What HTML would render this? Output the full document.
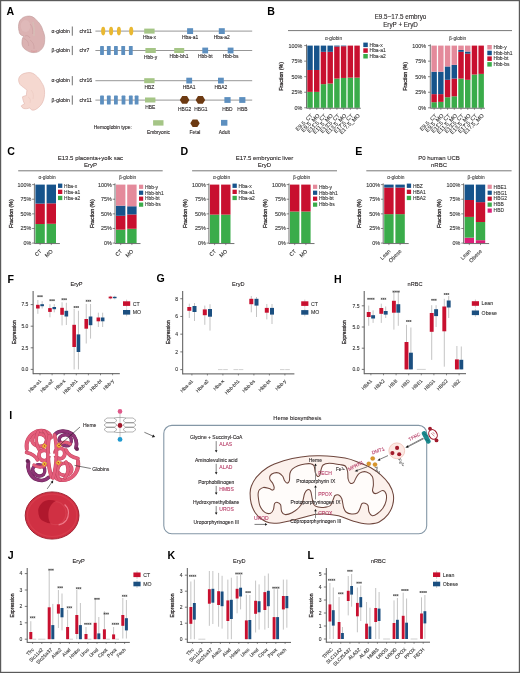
<!DOCTYPE html>
<html><head><meta charset="utf-8"><title>Figure</title>
<style>
html,body{margin:0;padding:0;background:#fff;}
body{width:520px;height:673px;overflow:hidden;}
svg{display:block;font-family:"Liberation Sans",sans-serif;will-change:transform;}
</style></head>
<body>
<svg width="520" height="673" viewBox="0 0 520 673">
<rect x="0" y="0" width="520" height="673" fill="#fff"/>
<text x="6.6" y="14.8" font-size="10.6" text-anchor="start" fill="#000" font-weight="bold">A</text>
<path d="M27.1,16.2 C31,15.6 33.5,17 35.6,19.2 C39.5,22.6 42,26.5 42.8,30.3 C44.2,33.5 45,36.5 44.7,39.5 C44.8,43.5 43.8,46.5 42.1,48.6 C40.2,51 38,52.3 35.6,52.5 C32,53 29,52 27.1,50.6 C25,49.5 23.3,48 22.5,46 C21.6,44 22,41.5 22.2,39.5 C22.4,38 23.2,37 23.8,36.2 C22.6,35.8 21,35.2 20.2,34.2 C19.4,33.2 19.3,32.4 19.2,31.6 C18.6,29.5 18.3,27.3 18.6,25 C18.8,22.8 19.4,21.2 20.5,19.8 C22.3,17.6 24.6,16.5 27.1,16.2 Z" fill="#dbb2b2" stroke="#c09898" stroke-width="0.6"/>
<ellipse cx="25.5" cy="26" rx="4.8" ry="6" fill="#e2c0bf" opacity="0.55"/>
<path d="M33,22 C34,26 34.5,31 34,36" fill="none" stroke="#d4c0b6" stroke-width="1.6" opacity="0.7"/>
<path d="M30,24 C32.5,26 33,30 32.5,34 M23.5,38.5 C26.5,39.5 29,42 28.5,46 M30,40 C33,42 34.5,45 34,49 M25,36 C27,35 29,36 30,38" fill="none" stroke="#c39495" stroke-width="0.5" opacity="0.8"/>
<path d="M31,50.8 C33,51.6 35,51.6 37,50.8" fill="none" stroke="#d98f92" stroke-width="0.9" opacity="0.7"/>
<path d="M29,72.6 C31.5,72.4 33.7,73.6 35.6,75.2 C38.3,77.4 40.2,79.8 41.5,82.4 C43.3,85 44.2,87.2 44.4,89.6 C44.8,93 44.6,96.4 43.7,99.4 C42.6,103 41,105.4 38.8,107.2 C37,108.8 35,110.2 33,110.2 C31.5,110.2 30.5,109 29.7,107.9 C28,108.6 25.5,109 23.8,108.5 C22.5,108 21.5,107 21.2,105.9 C22,105 23.4,104.6 24.5,104 C23.6,101.7 22.6,99.4 22.5,96.8 C23.8,96 25.2,95.8 26.4,95.5 C26.4,93.6 26.6,91.8 27,90.2 C25.9,89.4 24.8,88.4 23.8,87.6 C22.3,86.6 20.9,85.6 19.9,84.3 C19,82.8 18.6,81.3 18.6,79.8 C18.7,77.7 19.8,75.8 21.8,74.5 C24,73.2 26.5,72.7 29,72.6 Z" fill="#f5d8d0" stroke="#e0b4ab" stroke-width="0.6"/>
<path d="M31,90 C33,92 34,95 33,99 M28,97 C30,98 31,100 30,103" fill="none" stroke="#e9c3ba" stroke-width="0.45"/>
<text x="69.8" y="32.64" font-size="5.1" text-anchor="end" fill="#231f20" stroke="#231f20" stroke-width="0.1">α-globin</text>
<line x1="72.3" y1="26.5" x2="72.3" y2="35.7" stroke="#333" stroke-width="0.7"/>
<text x="79.4" y="32.84" font-size="5.1" text-anchor="start" fill="#231f20" stroke="#231f20" stroke-width="0.1">chr11</text>
<line x1="95.4" y1="31.1" x2="252.2" y2="31.1" stroke="#7c7c7c" stroke-width="0.8"/>
<text x="69.8" y="52.04" font-size="5.1" text-anchor="end" fill="#231f20" stroke="#231f20" stroke-width="0.1">β-globin</text>
<line x1="72.3" y1="45.9" x2="72.3" y2="55.1" stroke="#333" stroke-width="0.7"/>
<text x="79.4" y="52.24" font-size="5.1" text-anchor="start" fill="#231f20" stroke="#231f20" stroke-width="0.1">chr7</text>
<line x1="95.4" y1="50.5" x2="252.2" y2="50.5" stroke="#7c7c7c" stroke-width="0.8"/>
<text x="69.8" y="82.24" font-size="5.1" text-anchor="end" fill="#231f20" stroke="#231f20" stroke-width="0.1">α-globin</text>
<line x1="72.3" y1="76.1" x2="72.3" y2="85.3" stroke="#333" stroke-width="0.7"/>
<text x="79.4" y="82.44" font-size="5.1" text-anchor="start" fill="#231f20" stroke="#231f20" stroke-width="0.1">chr16</text>
<line x1="95.4" y1="80.7" x2="252.2" y2="80.7" stroke="#7c7c7c" stroke-width="0.8"/>
<text x="69.8" y="101.64" font-size="5.1" text-anchor="end" fill="#231f20" stroke="#231f20" stroke-width="0.1">β-globin</text>
<line x1="72.3" y1="95.5" x2="72.3" y2="104.7" stroke="#333" stroke-width="0.7"/>
<text x="79.4" y="101.84" font-size="5.1" text-anchor="start" fill="#231f20" stroke="#231f20" stroke-width="0.1">chr11</text>
<line x1="95.4" y1="100.1" x2="252.2" y2="100.1" stroke="#7c7c7c" stroke-width="0.8"/>
<ellipse cx="103.2" cy="31.1" rx="2.05" ry="4.3" fill="#e9b832"/>
<ellipse cx="111.1" cy="31.1" rx="2.05" ry="4.3" fill="#e9b832"/>
<ellipse cx="118.9" cy="31.1" rx="2.05" ry="4.3" fill="#e9b832"/>
<ellipse cx="131.2" cy="31.1" rx="2.05" ry="4.3" fill="#e9b832"/>
<rect x="144.2" y="28.6" width="10.4" height="5" fill="#a5c586"/>
<rect x="187.1" y="28.2" width="6" height="5.8" fill="#5d8fbf"/>
<rect x="218.8" y="28.2" width="6" height="5.8" fill="#5d8fbf"/>
<text x="149.4" y="39.06" font-size="4.9" text-anchor="middle" fill="#231f20" stroke="#231f20" stroke-width="0.1">Hba-x</text>
<text x="190.1" y="39.46" font-size="4.9" text-anchor="middle" fill="#231f20" stroke="#231f20" stroke-width="0.1">Hba-a1</text>
<text x="221.8" y="39.46" font-size="4.9" text-anchor="middle" fill="#231f20" stroke="#231f20" stroke-width="0.1">Hba-a2</text>
<rect x="100.1" y="46" width="3.8" height="9" fill="#5d8fbf" rx="0.6"/>
<rect x="106.9" y="46" width="3.8" height="9" fill="#5d8fbf" rx="0.6"/>
<rect x="114" y="46" width="3.8" height="9" fill="#5d8fbf" rx="0.6"/>
<rect x="121.3" y="46" width="3.8" height="9" fill="#5d8fbf" rx="0.6"/>
<rect x="128.9" y="46" width="3.8" height="9" fill="#5d8fbf" rx="0.6"/>
<rect x="145.4" y="48" width="10.4" height="5" fill="#a5c586"/>
<rect x="174.2" y="48" width="10" height="5" fill="#a5c586"/>
<rect x="202.3" y="47.6" width="5.8" height="5.8" fill="#5d8fbf"/>
<rect x="227.7" y="47.6" width="5.8" height="5.8" fill="#5d8fbf"/>
<text x="150.6" y="58.66" font-size="4.9" text-anchor="middle" fill="#231f20" stroke="#231f20" stroke-width="0.1">Hbb-y</text>
<text x="179" y="58.36" font-size="4.9" text-anchor="middle" fill="#231f20" stroke="#231f20" stroke-width="0.1">Hbb-bh1</text>
<text x="205.3" y="58.36" font-size="4.9" text-anchor="middle" fill="#231f20" stroke="#231f20" stroke-width="0.1">Hbb-bt</text>
<text x="230.6" y="58.36" font-size="4.9" text-anchor="middle" fill="#231f20" stroke="#231f20" stroke-width="0.1">Hbb-bs</text>
<rect x="144.2" y="78.2" width="10.4" height="5" fill="#a5c586"/>
<rect x="186.3" y="77.7" width="5.8" height="5.8" fill="#5d8fbf"/>
<rect x="218" y="77.7" width="5.8" height="5.8" fill="#5d8fbf"/>
<text x="149.4" y="89.06" font-size="4.9" text-anchor="middle" fill="#231f20" stroke="#231f20" stroke-width="0.1">HBZ</text>
<text x="189.2" y="89.06" font-size="4.9" text-anchor="middle" fill="#231f20" stroke="#231f20" stroke-width="0.1">HBA1</text>
<text x="220.9" y="89.06" font-size="4.9" text-anchor="middle" fill="#231f20" stroke="#231f20" stroke-width="0.1">HBA2</text>
<rect x="100.1" y="95.6" width="3.8" height="9" fill="#5d8fbf" rx="0.6"/>
<rect x="106.9" y="95.6" width="3.8" height="9" fill="#5d8fbf" rx="0.6"/>
<rect x="114" y="95.6" width="3.8" height="9" fill="#5d8fbf" rx="0.6"/>
<rect x="121.6" y="95.6" width="3.8" height="9" fill="#5d8fbf" rx="0.6"/>
<rect x="128.9" y="95.6" width="3.8" height="9" fill="#5d8fbf" rx="0.6"/>
<rect x="134.7" y="95.6" width="3.8" height="9" fill="#5d8fbf" rx="0.6"/>
<rect x="145" y="97.5" width="10.4" height="5" fill="#a5c586"/>
<polygon points="189.4,99.9 187,103.72 182.2,103.72 179.8,99.9 182.2,96.08 187,96.08" fill="#6d3a12"/>
<polygon points="205.2,99.9 202.8,103.72 198,103.72 195.6,99.9 198,96.08 202.8,96.08" fill="#6d3a12"/>
<rect x="224.4" y="97.1" width="6.2" height="5.8" fill="#5d8fbf"/>
<rect x="239.2" y="97.1" width="6.2" height="5.8" fill="#5d8fbf"/>
<text x="150.2" y="108.56" font-size="4.9" text-anchor="middle" fill="#231f20" stroke="#231f20" stroke-width="0.1">HBE</text>
<text x="184.6" y="111.16" font-size="4.9" text-anchor="middle" fill="#231f20" stroke="#231f20" stroke-width="0.1">HBG2</text>
<text x="200.8" y="111.16" font-size="4.9" text-anchor="middle" fill="#231f20" stroke="#231f20" stroke-width="0.1">HBG1</text>
<text x="227.4" y="111.16" font-size="4.9" text-anchor="middle" fill="#231f20" stroke="#231f20" stroke-width="0.1">HBD</text>
<text x="242.4" y="111.16" font-size="4.9" text-anchor="middle" fill="#231f20" stroke="#231f20" stroke-width="0.1">HBB</text>
<text x="93.8" y="128.76" font-size="4.9" text-anchor="start" fill="#231f20" stroke="#231f20" stroke-width="0.1">Hemoglobin type:</text>
<rect x="153.1" y="120.2" width="10.4" height="5.4" fill="#a5c586"/>
<polygon points="199.7,123.2 197.35,126.94 192.65,126.94 190.3,123.2 192.65,119.46 197.35,119.46" fill="#6d3a12"/>
<rect x="221" y="119.9" width="6.4" height="5.8" fill="#5d8fbf"/>
<text x="158.5" y="133.56" font-size="4.9" text-anchor="middle" fill="#231f20" stroke="#231f20" stroke-width="0.1">Embryonic</text>
<text x="195" y="133.56" font-size="4.9" text-anchor="middle" fill="#231f20" stroke="#231f20" stroke-width="0.1">Fetal</text>
<text x="224.4" y="133.56" font-size="4.9" text-anchor="middle" fill="#231f20" stroke="#231f20" stroke-width="0.1">Adult</text>
<text x="267.3" y="14.6" font-size="10.6" text-anchor="start" fill="#000" font-weight="bold">B</text>
<text x="400.5" y="18.97" font-size="6.3" text-anchor="middle" fill="#231f20" stroke="#231f20" stroke-width="0.1">E9.5~17.5 embryo</text>
<text x="400.5" y="26.57" font-size="6.3" text-anchor="middle" fill="#231f20" stroke="#231f20" stroke-width="0.1">EryP + EryD</text>
<line x1="288" y1="30.6" x2="512" y2="30.6" stroke="#555" stroke-width="0.8"/>
<rect x="307.3" y="91.88" width="5.45" height="15.92" fill="#3aac4a"/>
<rect x="307.3" y="69.98" width="5.45" height="21.89" fill="#c8102f"/>
<rect x="307.3" y="45.6" width="5.45" height="24.38" fill="#16538b"/>
<rect x="314.02" y="91.88" width="5.45" height="15.92" fill="#3aac4a"/>
<rect x="314.02" y="69.98" width="5.45" height="21.89" fill="#c8102f"/>
<rect x="314.02" y="45.6" width="5.45" height="24.38" fill="#16538b"/>
<rect x="320.74" y="84.16" width="5.45" height="23.64" fill="#3aac4a"/>
<rect x="320.74" y="51.82" width="5.45" height="32.34" fill="#c8102f"/>
<rect x="320.74" y="45.6" width="5.45" height="6.22" fill="#16538b"/>
<rect x="327.46" y="83.54" width="5.45" height="24.26" fill="#3aac4a"/>
<rect x="327.46" y="51.82" width="5.45" height="31.72" fill="#c8102f"/>
<rect x="327.46" y="45.6" width="5.45" height="6.22" fill="#16538b"/>
<rect x="334.18" y="78.57" width="5.45" height="29.23" fill="#3aac4a"/>
<rect x="334.18" y="46.53" width="5.45" height="32.03" fill="#c8102f"/>
<rect x="334.18" y="45.6" width="5.45" height="0.93" fill="#16538b"/>
<rect x="340.9" y="77.94" width="5.45" height="29.86" fill="#3aac4a"/>
<rect x="340.9" y="46.22" width="5.45" height="31.72" fill="#c8102f"/>
<rect x="340.9" y="45.6" width="5.45" height="0.62" fill="#16538b"/>
<rect x="347.62" y="77.63" width="5.45" height="30.17" fill="#3aac4a"/>
<rect x="347.62" y="45.6" width="5.45" height="32.03" fill="#c8102f"/>
<rect x="347.62" y="45.6" width="5.45" height="0" fill="#16538b"/>
<rect x="354.34" y="77.63" width="5.45" height="30.17" fill="#3aac4a"/>
<rect x="354.34" y="45.6" width="5.45" height="32.03" fill="#c8102f"/>
<rect x="354.34" y="45.6" width="5.45" height="0" fill="#16538b"/>
<line x1="306.5" y1="44.4" x2="306.5" y2="108.2" stroke="#444444" stroke-width="0.75"/>
<line x1="306.5" y1="108.25" x2="360.79" y2="108.25" stroke="#444444" stroke-width="0.75"/>
<line x1="304.2" y1="107.8" x2="306.5" y2="107.8" stroke="#555" stroke-width="0.7"/>
<text x="302.3" y="109.7" font-size="5.4" text-anchor="end" fill="#333" stroke="#333" stroke-width="0.1">0%</text>
<line x1="304.2" y1="92.25" x2="306.5" y2="92.25" stroke="#555" stroke-width="0.7"/>
<text x="302.3" y="94.15" font-size="5.4" text-anchor="end" fill="#333" stroke="#333" stroke-width="0.1">25%</text>
<line x1="304.2" y1="76.7" x2="306.5" y2="76.7" stroke="#555" stroke-width="0.7"/>
<text x="302.3" y="78.6" font-size="5.4" text-anchor="end" fill="#333" stroke="#333" stroke-width="0.1">50%</text>
<line x1="304.2" y1="61.15" x2="306.5" y2="61.15" stroke="#555" stroke-width="0.7"/>
<text x="302.3" y="63.05" font-size="5.4" text-anchor="end" fill="#333" stroke="#333" stroke-width="0.1">75%</text>
<line x1="304.2" y1="45.6" x2="306.5" y2="45.6" stroke="#555" stroke-width="0.7"/>
<text x="302.3" y="47.5" font-size="5.4" text-anchor="end" fill="#333" stroke="#333" stroke-width="0.1">100%</text>
<line x1="310.03" y1="108.25" x2="310.03" y2="109.8" stroke="#444444" stroke-width="0.6"/>
<line x1="316.75" y1="108.25" x2="316.75" y2="109.8" stroke="#444444" stroke-width="0.6"/>
<line x1="323.47" y1="108.25" x2="323.47" y2="109.8" stroke="#444444" stroke-width="0.6"/>
<line x1="330.19" y1="108.25" x2="330.19" y2="109.8" stroke="#444444" stroke-width="0.6"/>
<line x1="336.91" y1="108.25" x2="336.91" y2="109.8" stroke="#444444" stroke-width="0.6"/>
<line x1="343.63" y1="108.25" x2="343.63" y2="109.8" stroke="#444444" stroke-width="0.6"/>
<line x1="350.35" y1="108.25" x2="350.35" y2="109.8" stroke="#444444" stroke-width="0.6"/>
<line x1="357.07" y1="108.25" x2="357.07" y2="109.8" stroke="#444444" stroke-width="0.6"/>
<text transform="translate(313.23,116) rotate(-45)" font-size="5.5" text-anchor="end" fill="#333" stroke="#333" stroke-width="0.1">E9.5_CT</text>
<text transform="translate(319.95,116) rotate(-45)" font-size="5.5" text-anchor="end" fill="#333" stroke="#333" stroke-width="0.1">E9.5_MO</text>
<text transform="translate(326.67,116) rotate(-45)" font-size="5.5" text-anchor="end" fill="#333" stroke="#333" stroke-width="0.1">E11.5_CT</text>
<text transform="translate(333.39,116) rotate(-45)" font-size="5.5" text-anchor="end" fill="#333" stroke="#333" stroke-width="0.1">E11.5_MO</text>
<text transform="translate(340.11,116) rotate(-45)" font-size="5.5" text-anchor="end" fill="#333" stroke="#333" stroke-width="0.1">E13.5_CT</text>
<text transform="translate(346.83,116) rotate(-45)" font-size="5.5" text-anchor="end" fill="#333" stroke="#333" stroke-width="0.1">E13.5_MO</text>
<text transform="translate(353.55,116) rotate(-45)" font-size="5.5" text-anchor="end" fill="#333" stroke="#333" stroke-width="0.1">E17.5_CT</text>
<text transform="translate(360.27,116) rotate(-45)" font-size="5.5" text-anchor="end" fill="#333" stroke="#333" stroke-width="0.1">E17.5_MO</text>
<rect x="363.3" y="42.6" width="4.5" height="4.5" fill="#16538b"/>
<text x="369.6" y="46.6" font-size="4.9" text-anchor="start" fill="#333" stroke="#333" stroke-width="0.1">Hba-x</text>
<rect x="363.3" y="48.3" width="4.5" height="4.5" fill="#c8102f"/>
<text x="369.6" y="52.3" font-size="4.9" text-anchor="start" fill="#333" stroke="#333" stroke-width="0.1">Hba-a1</text>
<rect x="363.3" y="54" width="4.5" height="4.5" fill="#3aac4a"/>
<text x="369.6" y="58" font-size="4.9" text-anchor="start" fill="#333" stroke="#333" stroke-width="0.1">Hba-a2</text>
<text x="333.5" y="39.6" font-size="4.8" text-anchor="middle" fill="#444" stroke="#444" stroke-width="0.1">α-globin</text>
<text transform="translate(282.8,76.4) rotate(-90) scale(0.865,1)" font-size="6.1" text-anchor="middle" fill="#231f20" stroke="#231f20" stroke-width="0.26">Fraction (%)</text>
<rect x="431.4" y="102.2" width="5.45" height="5.6" fill="#3aac4a"/>
<rect x="431.4" y="94.12" width="5.45" height="8.09" fill="#c8102f"/>
<rect x="431.4" y="71.72" width="5.45" height="22.39" fill="#16538b"/>
<rect x="431.4" y="45.6" width="5.45" height="26.12" fill="#e48a9b"/>
<rect x="438.12" y="101.89" width="5.45" height="5.91" fill="#3aac4a"/>
<rect x="438.12" y="94.12" width="5.45" height="7.77" fill="#c8102f"/>
<rect x="438.12" y="71.72" width="5.45" height="22.39" fill="#16538b"/>
<rect x="438.12" y="45.6" width="5.45" height="26.12" fill="#e48a9b"/>
<rect x="444.84" y="97.23" width="5.45" height="10.57" fill="#3aac4a"/>
<rect x="444.84" y="79.81" width="5.45" height="17.42" fill="#c8102f"/>
<rect x="444.84" y="66.44" width="5.45" height="13.37" fill="#16538b"/>
<rect x="444.84" y="45.6" width="5.45" height="20.84" fill="#e48a9b"/>
<rect x="451.56" y="96.29" width="5.45" height="11.51" fill="#3aac4a"/>
<rect x="451.56" y="78.57" width="5.45" height="17.73" fill="#c8102f"/>
<rect x="451.56" y="64.88" width="5.45" height="13.68" fill="#16538b"/>
<rect x="451.56" y="45.6" width="5.45" height="19.28" fill="#e48a9b"/>
<rect x="458.28" y="78.57" width="5.45" height="29.23" fill="#3aac4a"/>
<rect x="458.28" y="51.82" width="5.45" height="26.75" fill="#c8102f"/>
<rect x="458.28" y="49.95" width="5.45" height="1.87" fill="#16538b"/>
<rect x="458.28" y="45.6" width="5.45" height="4.35" fill="#e48a9b"/>
<rect x="465" y="79.81" width="5.45" height="27.99" fill="#3aac4a"/>
<rect x="465" y="53.69" width="5.45" height="26.12" fill="#c8102f"/>
<rect x="465" y="51.51" width="5.45" height="2.18" fill="#16538b"/>
<rect x="465" y="45.6" width="5.45" height="5.91" fill="#e48a9b"/>
<rect x="471.72" y="74.52" width="5.45" height="33.28" fill="#3aac4a"/>
<rect x="471.72" y="45.6" width="5.45" height="28.92" fill="#c8102f"/>
<rect x="471.72" y="45.6" width="5.45" height="0" fill="#16538b"/>
<rect x="471.72" y="45.6" width="5.45" height="0" fill="#e48a9b"/>
<rect x="478.44" y="73.9" width="5.45" height="33.9" fill="#3aac4a"/>
<rect x="478.44" y="45.6" width="5.45" height="28.3" fill="#c8102f"/>
<rect x="478.44" y="45.6" width="5.45" height="0" fill="#16538b"/>
<rect x="478.44" y="45.6" width="5.45" height="0" fill="#e48a9b"/>
<line x1="430.3" y1="44.4" x2="430.3" y2="108.2" stroke="#444444" stroke-width="0.75"/>
<line x1="430.3" y1="108.25" x2="484.89" y2="108.25" stroke="#444444" stroke-width="0.75"/>
<line x1="428" y1="107.8" x2="430.3" y2="107.8" stroke="#555" stroke-width="0.7"/>
<text x="426.1" y="109.7" font-size="5.4" text-anchor="end" fill="#333" stroke="#333" stroke-width="0.1">0%</text>
<line x1="428" y1="92.25" x2="430.3" y2="92.25" stroke="#555" stroke-width="0.7"/>
<text x="426.1" y="94.15" font-size="5.4" text-anchor="end" fill="#333" stroke="#333" stroke-width="0.1">25%</text>
<line x1="428" y1="76.7" x2="430.3" y2="76.7" stroke="#555" stroke-width="0.7"/>
<text x="426.1" y="78.6" font-size="5.4" text-anchor="end" fill="#333" stroke="#333" stroke-width="0.1">50%</text>
<line x1="428" y1="61.15" x2="430.3" y2="61.15" stroke="#555" stroke-width="0.7"/>
<text x="426.1" y="63.05" font-size="5.4" text-anchor="end" fill="#333" stroke="#333" stroke-width="0.1">75%</text>
<line x1="428" y1="45.6" x2="430.3" y2="45.6" stroke="#555" stroke-width="0.7"/>
<text x="426.1" y="47.5" font-size="5.4" text-anchor="end" fill="#333" stroke="#333" stroke-width="0.1">100%</text>
<line x1="434.12" y1="108.25" x2="434.12" y2="109.8" stroke="#444444" stroke-width="0.6"/>
<line x1="440.85" y1="108.25" x2="440.85" y2="109.8" stroke="#444444" stroke-width="0.6"/>
<line x1="447.56" y1="108.25" x2="447.56" y2="109.8" stroke="#444444" stroke-width="0.6"/>
<line x1="454.29" y1="108.25" x2="454.29" y2="109.8" stroke="#444444" stroke-width="0.6"/>
<line x1="461" y1="108.25" x2="461" y2="109.8" stroke="#444444" stroke-width="0.6"/>
<line x1="467.73" y1="108.25" x2="467.73" y2="109.8" stroke="#444444" stroke-width="0.6"/>
<line x1="474.44" y1="108.25" x2="474.44" y2="109.8" stroke="#444444" stroke-width="0.6"/>
<line x1="481.17" y1="108.25" x2="481.17" y2="109.8" stroke="#444444" stroke-width="0.6"/>
<text transform="translate(437.32,116) rotate(-45)" font-size="5.5" text-anchor="end" fill="#333" stroke="#333" stroke-width="0.1">E9.5_CT</text>
<text transform="translate(444.05,116) rotate(-45)" font-size="5.5" text-anchor="end" fill="#333" stroke="#333" stroke-width="0.1">E9.5_MO</text>
<text transform="translate(450.76,116) rotate(-45)" font-size="5.5" text-anchor="end" fill="#333" stroke="#333" stroke-width="0.1">E11.5_CT</text>
<text transform="translate(457.49,116) rotate(-45)" font-size="5.5" text-anchor="end" fill="#333" stroke="#333" stroke-width="0.1">E11.5_MO</text>
<text transform="translate(464.2,116) rotate(-45)" font-size="5.5" text-anchor="end" fill="#333" stroke="#333" stroke-width="0.1">E13.5_CT</text>
<text transform="translate(470.93,116) rotate(-45)" font-size="5.5" text-anchor="end" fill="#333" stroke="#333" stroke-width="0.1">E13.5_MO</text>
<text transform="translate(477.64,116) rotate(-45)" font-size="5.5" text-anchor="end" fill="#333" stroke="#333" stroke-width="0.1">E17.5_CT</text>
<text transform="translate(484.37,116) rotate(-45)" font-size="5.5" text-anchor="end" fill="#333" stroke="#333" stroke-width="0.1">E17.5_MO</text>
<rect x="487.3" y="45" width="4.5" height="4.5" fill="#e48a9b"/>
<text x="493.6" y="49" font-size="4.9" text-anchor="start" fill="#333" stroke="#333" stroke-width="0.1">Hbb-y</text>
<rect x="487.3" y="50.7" width="4.5" height="4.5" fill="#16538b"/>
<text x="493.6" y="54.7" font-size="4.9" text-anchor="start" fill="#333" stroke="#333" stroke-width="0.1">Hbb-bh1</text>
<rect x="487.3" y="56.4" width="4.5" height="4.5" fill="#c8102f"/>
<text x="493.6" y="60.4" font-size="4.9" text-anchor="start" fill="#333" stroke="#333" stroke-width="0.1">Hbb-bt</text>
<rect x="487.3" y="62.1" width="4.5" height="4.5" fill="#3aac4a"/>
<text x="493.6" y="66.1" font-size="4.9" text-anchor="start" fill="#333" stroke="#333" stroke-width="0.1">Hbb-bs</text>
<text x="457.7" y="39.5" font-size="4.8" text-anchor="middle" fill="#444" stroke="#444" stroke-width="0.1">β-globin</text>
<text transform="translate(406.8,76.4) rotate(-90) scale(0.865,1)" font-size="6.1" text-anchor="middle" fill="#231f20" stroke="#231f20" stroke-width="0.26">Fraction (%)</text>
<text x="7.2" y="155.3" font-size="10.6" text-anchor="start" fill="#000" font-weight="bold">C</text>
<text x="90.4" y="159.66" font-size="6" text-anchor="middle" fill="#231f20" stroke="#231f20" stroke-width="0.1">E13.5 placenta+yolk sac</text>
<text x="90.4" y="166.96" font-size="6" text-anchor="middle" fill="#231f20" stroke="#231f20" stroke-width="0.1">EryP</text>
<line x1="18.2" y1="170.8" x2="162.7" y2="170.8" stroke="#555" stroke-width="0.8"/>
<rect x="35.4" y="224.03" width="9.4" height="19.07" fill="#3aac4a"/>
<rect x="35.4" y="203.61" width="9.4" height="20.42" fill="#c8102f"/>
<rect x="35.4" y="184.6" width="9.4" height="19.01" fill="#16538b"/>
<rect x="46.6" y="223.79" width="9.4" height="19.31" fill="#3aac4a"/>
<rect x="46.6" y="203.32" width="9.4" height="20.47" fill="#c8102f"/>
<rect x="46.6" y="184.6" width="9.4" height="18.72" fill="#16538b"/>
<line x1="34.4" y1="183.4" x2="34.4" y2="243.5" stroke="#444444" stroke-width="0.75"/>
<line x1="34.4" y1="243.55" x2="59.9" y2="243.55" stroke="#444444" stroke-width="0.75"/>
<line x1="32.1" y1="243.1" x2="34.4" y2="243.1" stroke="#555" stroke-width="0.7"/>
<text x="31.2" y="245" font-size="5.4" text-anchor="end" fill="#333" stroke="#333" stroke-width="0.1">0%</text>
<line x1="32.1" y1="228.47" x2="34.4" y2="228.47" stroke="#555" stroke-width="0.7"/>
<text x="31.2" y="230.38" font-size="5.4" text-anchor="end" fill="#333" stroke="#333" stroke-width="0.1">25%</text>
<line x1="32.1" y1="213.85" x2="34.4" y2="213.85" stroke="#555" stroke-width="0.7"/>
<text x="31.2" y="215.75" font-size="5.4" text-anchor="end" fill="#333" stroke="#333" stroke-width="0.1">50%</text>
<line x1="32.1" y1="199.22" x2="34.4" y2="199.22" stroke="#555" stroke-width="0.7"/>
<text x="31.2" y="201.12" font-size="5.4" text-anchor="end" fill="#333" stroke="#333" stroke-width="0.1">75%</text>
<line x1="32.1" y1="184.6" x2="34.4" y2="184.6" stroke="#555" stroke-width="0.7"/>
<text x="31.2" y="186.5" font-size="5.4" text-anchor="end" fill="#333" stroke="#333" stroke-width="0.1">100%</text>
<line x1="40.1" y1="243.55" x2="40.1" y2="245.1" stroke="#444444" stroke-width="0.6"/>
<line x1="51.3" y1="243.55" x2="51.3" y2="245.1" stroke="#444444" stroke-width="0.6"/>
<text transform="translate(42,251.7) rotate(-45)" font-size="5.4" text-anchor="end" fill="#333" stroke="#333" stroke-width="0.1">CT</text>
<text transform="translate(53.2,251.7) rotate(-45)" font-size="5.4" text-anchor="end" fill="#333" stroke="#333" stroke-width="0.1">MO</text>
<rect x="58" y="183.6" width="4.3" height="4.3" fill="#16538b"/>
<text x="64.1" y="187.5" font-size="4.9" text-anchor="start" fill="#333" stroke="#333" stroke-width="0.1">Hba-x</text>
<rect x="58" y="189.7" width="4.3" height="4.3" fill="#c8102f"/>
<text x="64.1" y="193.6" font-size="4.9" text-anchor="start" fill="#333" stroke="#333" stroke-width="0.1">Hba-a1</text>
<rect x="58" y="195.8" width="4.3" height="4.3" fill="#3aac4a"/>
<text x="64.1" y="199.7" font-size="4.9" text-anchor="start" fill="#333" stroke="#333" stroke-width="0.1">Hba-a2</text>
<text x="47" y="178.6" font-size="4.8" text-anchor="middle" fill="#444" stroke="#444" stroke-width="0.1">α-globin</text>
<text transform="translate(13,213.55) rotate(-90) scale(0.865,1)" font-size="6.1" text-anchor="middle" fill="#231f20" stroke="#231f20" stroke-width="0.26">Fraction (%)</text>
<rect x="116" y="229.64" width="9.4" height="13.46" fill="#3aac4a"/>
<rect x="116" y="215.78" width="9.4" height="13.86" fill="#c8102f"/>
<rect x="116" y="205.66" width="9.4" height="10.12" fill="#16538b"/>
<rect x="116" y="184.6" width="9.4" height="21.06" fill="#e48a9b"/>
<rect x="127.2" y="228.77" width="9.4" height="14.33" fill="#3aac4a"/>
<rect x="127.2" y="214.44" width="9.4" height="14.33" fill="#c8102f"/>
<rect x="127.2" y="206.25" width="9.4" height="8.19" fill="#16538b"/>
<rect x="127.2" y="184.6" width="9.4" height="21.65" fill="#e48a9b"/>
<line x1="115" y1="183.4" x2="115" y2="243.5" stroke="#444444" stroke-width="0.75"/>
<line x1="115" y1="243.55" x2="140.5" y2="243.55" stroke="#444444" stroke-width="0.75"/>
<line x1="112.7" y1="243.1" x2="115" y2="243.1" stroke="#555" stroke-width="0.7"/>
<text x="111.8" y="245" font-size="5.4" text-anchor="end" fill="#333" stroke="#333" stroke-width="0.1">0%</text>
<line x1="112.7" y1="228.47" x2="115" y2="228.47" stroke="#555" stroke-width="0.7"/>
<text x="111.8" y="230.38" font-size="5.4" text-anchor="end" fill="#333" stroke="#333" stroke-width="0.1">25%</text>
<line x1="112.7" y1="213.85" x2="115" y2="213.85" stroke="#555" stroke-width="0.7"/>
<text x="111.8" y="215.75" font-size="5.4" text-anchor="end" fill="#333" stroke="#333" stroke-width="0.1">50%</text>
<line x1="112.7" y1="199.22" x2="115" y2="199.22" stroke="#555" stroke-width="0.7"/>
<text x="111.8" y="201.12" font-size="5.4" text-anchor="end" fill="#333" stroke="#333" stroke-width="0.1">75%</text>
<line x1="112.7" y1="184.6" x2="115" y2="184.6" stroke="#555" stroke-width="0.7"/>
<text x="111.8" y="186.5" font-size="5.4" text-anchor="end" fill="#333" stroke="#333" stroke-width="0.1">100%</text>
<line x1="120.7" y1="243.55" x2="120.7" y2="245.1" stroke="#444444" stroke-width="0.6"/>
<line x1="131.9" y1="243.55" x2="131.9" y2="245.1" stroke="#444444" stroke-width="0.6"/>
<text transform="translate(122.6,251.7) rotate(-45)" font-size="5.4" text-anchor="end" fill="#333" stroke="#333" stroke-width="0.1">CT</text>
<text transform="translate(133.8,251.7) rotate(-45)" font-size="5.4" text-anchor="end" fill="#333" stroke="#333" stroke-width="0.1">MO</text>
<rect x="139" y="184.7" width="4.2" height="4.2" fill="#e48a9b"/>
<text x="145" y="188.55" font-size="4.9" text-anchor="start" fill="#333" stroke="#333" stroke-width="0.1">Hbb-y</text>
<rect x="139" y="190.65" width="4.2" height="4.2" fill="#16538b"/>
<text x="145" y="194.5" font-size="4.9" text-anchor="start" fill="#333" stroke="#333" stroke-width="0.1">Hbb-bh1</text>
<rect x="139" y="196.6" width="4.2" height="4.2" fill="#c8102f"/>
<text x="145" y="200.45" font-size="4.9" text-anchor="start" fill="#333" stroke="#333" stroke-width="0.1">Hbb-bt</text>
<rect x="139" y="202.55" width="4.2" height="4.2" fill="#3aac4a"/>
<text x="145" y="206.4" font-size="4.9" text-anchor="start" fill="#333" stroke="#333" stroke-width="0.1">Hbb-bs</text>
<text x="127.6" y="178.7" font-size="4.8" text-anchor="middle" fill="#444" stroke="#444" stroke-width="0.1">β-globin</text>
<text transform="translate(93.6,213.55) rotate(-90) scale(0.865,1)" font-size="6.1" text-anchor="middle" fill="#231f20" stroke="#231f20" stroke-width="0.26">Fraction (%)</text>
<text x="180.6" y="155.3" font-size="10.6" text-anchor="start" fill="#000" font-weight="bold">D</text>
<text x="264.5" y="159.66" font-size="6" text-anchor="middle" fill="#231f20" stroke="#231f20" stroke-width="0.1">E17.5 embryonic liver</text>
<text x="264.5" y="166.96" font-size="6" text-anchor="middle" fill="#231f20" stroke="#231f20" stroke-width="0.1">EryD</text>
<line x1="192.1" y1="170.8" x2="337" y2="170.8" stroke="#555" stroke-width="0.8"/>
<rect x="209.9" y="214.61" width="9.4" height="28.49" fill="#3aac4a"/>
<rect x="209.9" y="184.6" width="9.4" height="30.01" fill="#c8102f"/>
<rect x="209.9" y="184.6" width="9.4" height="0" fill="#16538b"/>
<rect x="221.1" y="214.61" width="9.4" height="28.49" fill="#3aac4a"/>
<rect x="221.1" y="184.6" width="9.4" height="30.01" fill="#c8102f"/>
<rect x="221.1" y="184.6" width="9.4" height="0" fill="#16538b"/>
<line x1="208.9" y1="183.4" x2="208.9" y2="243.5" stroke="#444444" stroke-width="0.75"/>
<line x1="208.9" y1="243.55" x2="234.4" y2="243.55" stroke="#444444" stroke-width="0.75"/>
<line x1="206.6" y1="243.1" x2="208.9" y2="243.1" stroke="#555" stroke-width="0.7"/>
<text x="205.7" y="245" font-size="5.4" text-anchor="end" fill="#333" stroke="#333" stroke-width="0.1">0%</text>
<line x1="206.6" y1="228.47" x2="208.9" y2="228.47" stroke="#555" stroke-width="0.7"/>
<text x="205.7" y="230.38" font-size="5.4" text-anchor="end" fill="#333" stroke="#333" stroke-width="0.1">25%</text>
<line x1="206.6" y1="213.85" x2="208.9" y2="213.85" stroke="#555" stroke-width="0.7"/>
<text x="205.7" y="215.75" font-size="5.4" text-anchor="end" fill="#333" stroke="#333" stroke-width="0.1">50%</text>
<line x1="206.6" y1="199.22" x2="208.9" y2="199.22" stroke="#555" stroke-width="0.7"/>
<text x="205.7" y="201.12" font-size="5.4" text-anchor="end" fill="#333" stroke="#333" stroke-width="0.1">75%</text>
<line x1="206.6" y1="184.6" x2="208.9" y2="184.6" stroke="#555" stroke-width="0.7"/>
<text x="205.7" y="186.5" font-size="5.4" text-anchor="end" fill="#333" stroke="#333" stroke-width="0.1">100%</text>
<line x1="214.6" y1="243.55" x2="214.6" y2="245.1" stroke="#444444" stroke-width="0.6"/>
<line x1="225.8" y1="243.55" x2="225.8" y2="245.1" stroke="#444444" stroke-width="0.6"/>
<text transform="translate(216.5,251.7) rotate(-45)" font-size="5.4" text-anchor="end" fill="#333" stroke="#333" stroke-width="0.1">CT</text>
<text transform="translate(227.7,251.7) rotate(-45)" font-size="5.4" text-anchor="end" fill="#333" stroke="#333" stroke-width="0.1">MO</text>
<rect x="232.5" y="183.6" width="4.3" height="4.3" fill="#16538b"/>
<text x="238.6" y="187.5" font-size="4.9" text-anchor="start" fill="#333" stroke="#333" stroke-width="0.1">Hba-x</text>
<rect x="232.5" y="189.7" width="4.3" height="4.3" fill="#c8102f"/>
<text x="238.6" y="193.6" font-size="4.9" text-anchor="start" fill="#333" stroke="#333" stroke-width="0.1">Hba-a1</text>
<rect x="232.5" y="195.8" width="4.3" height="4.3" fill="#3aac4a"/>
<text x="238.6" y="199.7" font-size="4.9" text-anchor="start" fill="#333" stroke="#333" stroke-width="0.1">Hba-a2</text>
<text x="221.5" y="178.6" font-size="4.8" text-anchor="middle" fill="#444" stroke="#444" stroke-width="0.1">α-globin</text>
<text transform="translate(186.9,213.55) rotate(-90) scale(0.865,1)" font-size="6.1" text-anchor="middle" fill="#231f20" stroke="#231f20" stroke-width="0.26">Fraction (%)</text>
<rect x="290" y="211.51" width="9.4" height="31.59" fill="#3aac4a"/>
<rect x="290" y="184.6" width="9.4" height="26.91" fill="#c8102f"/>
<rect x="290" y="184.6" width="9.4" height="0" fill="#16538b"/>
<rect x="290" y="184.6" width="9.4" height="0" fill="#e48a9b"/>
<rect x="301.2" y="211.51" width="9.4" height="31.59" fill="#3aac4a"/>
<rect x="301.2" y="184.6" width="9.4" height="26.91" fill="#c8102f"/>
<rect x="301.2" y="184.6" width="9.4" height="0" fill="#16538b"/>
<rect x="301.2" y="184.6" width="9.4" height="0" fill="#e48a9b"/>
<line x1="289" y1="183.4" x2="289" y2="243.5" stroke="#444444" stroke-width="0.75"/>
<line x1="289" y1="243.55" x2="314.5" y2="243.55" stroke="#444444" stroke-width="0.75"/>
<line x1="286.7" y1="243.1" x2="289" y2="243.1" stroke="#555" stroke-width="0.7"/>
<text x="285.8" y="245" font-size="5.4" text-anchor="end" fill="#333" stroke="#333" stroke-width="0.1">0%</text>
<line x1="286.7" y1="228.47" x2="289" y2="228.47" stroke="#555" stroke-width="0.7"/>
<text x="285.8" y="230.38" font-size="5.4" text-anchor="end" fill="#333" stroke="#333" stroke-width="0.1">25%</text>
<line x1="286.7" y1="213.85" x2="289" y2="213.85" stroke="#555" stroke-width="0.7"/>
<text x="285.8" y="215.75" font-size="5.4" text-anchor="end" fill="#333" stroke="#333" stroke-width="0.1">50%</text>
<line x1="286.7" y1="199.22" x2="289" y2="199.22" stroke="#555" stroke-width="0.7"/>
<text x="285.8" y="201.12" font-size="5.4" text-anchor="end" fill="#333" stroke="#333" stroke-width="0.1">75%</text>
<line x1="286.7" y1="184.6" x2="289" y2="184.6" stroke="#555" stroke-width="0.7"/>
<text x="285.8" y="186.5" font-size="5.4" text-anchor="end" fill="#333" stroke="#333" stroke-width="0.1">100%</text>
<line x1="294.7" y1="243.55" x2="294.7" y2="245.1" stroke="#444444" stroke-width="0.6"/>
<line x1="305.9" y1="243.55" x2="305.9" y2="245.1" stroke="#444444" stroke-width="0.6"/>
<text transform="translate(296.6,251.7) rotate(-45)" font-size="5.4" text-anchor="end" fill="#333" stroke="#333" stroke-width="0.1">CT</text>
<text transform="translate(307.8,251.7) rotate(-45)" font-size="5.4" text-anchor="end" fill="#333" stroke="#333" stroke-width="0.1">MO</text>
<rect x="313" y="184.7" width="4.2" height="4.2" fill="#e48a9b"/>
<text x="319" y="188.55" font-size="4.9" text-anchor="start" fill="#333" stroke="#333" stroke-width="0.1">Hbb-y</text>
<rect x="313" y="190.65" width="4.2" height="4.2" fill="#16538b"/>
<text x="319" y="194.5" font-size="4.9" text-anchor="start" fill="#333" stroke="#333" stroke-width="0.1">Hbb-bh1</text>
<rect x="313" y="196.6" width="4.2" height="4.2" fill="#c8102f"/>
<text x="319" y="200.45" font-size="4.9" text-anchor="start" fill="#333" stroke="#333" stroke-width="0.1">Hbb-bt</text>
<rect x="313" y="202.55" width="4.2" height="4.2" fill="#3aac4a"/>
<text x="319" y="206.4" font-size="4.9" text-anchor="start" fill="#333" stroke="#333" stroke-width="0.1">Hbb-bs</text>
<text x="301.6" y="178.7" font-size="4.8" text-anchor="middle" fill="#444" stroke="#444" stroke-width="0.1">β-globin</text>
<text transform="translate(267,213.55) rotate(-90) scale(0.865,1)" font-size="6.1" text-anchor="middle" fill="#231f20" stroke="#231f20" stroke-width="0.26">Fraction (%)</text>
<text x="355.2" y="155.3" font-size="10.6" text-anchor="start" fill="#000" font-weight="bold">E</text>
<text x="439" y="159.66" font-size="6" text-anchor="middle" fill="#231f20" stroke="#231f20" stroke-width="0.1">P0 human UCB</text>
<text x="439" y="166.96" font-size="6" text-anchor="middle" fill="#231f20" stroke="#231f20" stroke-width="0.1">nRBC</text>
<line x1="366.3" y1="170.8" x2="511.6" y2="170.8" stroke="#555" stroke-width="0.8"/>
<rect x="384.2" y="214.14" width="9.4" height="28.96" fill="#3aac4a"/>
<rect x="384.2" y="187.53" width="9.4" height="26.62" fill="#c8102f"/>
<rect x="384.2" y="184.6" width="9.4" height="2.93" fill="#16538b"/>
<rect x="395.4" y="214.14" width="9.4" height="28.96" fill="#3aac4a"/>
<rect x="395.4" y="187.53" width="9.4" height="26.62" fill="#c8102f"/>
<rect x="395.4" y="184.6" width="9.4" height="2.93" fill="#16538b"/>
<line x1="383.2" y1="183.4" x2="383.2" y2="243.5" stroke="#444444" stroke-width="0.75"/>
<line x1="383.2" y1="243.55" x2="408.7" y2="243.55" stroke="#444444" stroke-width="0.75"/>
<line x1="380.9" y1="243.1" x2="383.2" y2="243.1" stroke="#555" stroke-width="0.7"/>
<text x="380" y="245" font-size="5.4" text-anchor="end" fill="#333" stroke="#333" stroke-width="0.1">0%</text>
<line x1="380.9" y1="228.47" x2="383.2" y2="228.47" stroke="#555" stroke-width="0.7"/>
<text x="380" y="230.38" font-size="5.4" text-anchor="end" fill="#333" stroke="#333" stroke-width="0.1">25%</text>
<line x1="380.9" y1="213.85" x2="383.2" y2="213.85" stroke="#555" stroke-width="0.7"/>
<text x="380" y="215.75" font-size="5.4" text-anchor="end" fill="#333" stroke="#333" stroke-width="0.1">50%</text>
<line x1="380.9" y1="199.22" x2="383.2" y2="199.22" stroke="#555" stroke-width="0.7"/>
<text x="380" y="201.12" font-size="5.4" text-anchor="end" fill="#333" stroke="#333" stroke-width="0.1">75%</text>
<line x1="380.9" y1="184.6" x2="383.2" y2="184.6" stroke="#555" stroke-width="0.7"/>
<text x="380" y="186.5" font-size="5.4" text-anchor="end" fill="#333" stroke="#333" stroke-width="0.1">100%</text>
<line x1="388.9" y1="243.55" x2="388.9" y2="245.1" stroke="#444444" stroke-width="0.6"/>
<line x1="400.1" y1="243.55" x2="400.1" y2="245.1" stroke="#444444" stroke-width="0.6"/>
<text transform="translate(390.8,251.7) rotate(-45)" font-size="5.4" text-anchor="end" fill="#333" stroke="#333" stroke-width="0.1">Lean</text>
<text transform="translate(402,251.7) rotate(-45)" font-size="5.4" text-anchor="end" fill="#333" stroke="#333" stroke-width="0.1">Obese</text>
<rect x="406.8" y="183.6" width="4.3" height="4.3" fill="#16538b"/>
<text x="412.9" y="187.5" font-size="4.9" text-anchor="start" fill="#333" stroke="#333" stroke-width="0.1">HBZ</text>
<rect x="406.8" y="189.7" width="4.3" height="4.3" fill="#c8102f"/>
<text x="412.9" y="193.6" font-size="4.9" text-anchor="start" fill="#333" stroke="#333" stroke-width="0.1">HBA1</text>
<rect x="406.8" y="195.8" width="4.3" height="4.3" fill="#3aac4a"/>
<text x="412.9" y="199.7" font-size="4.9" text-anchor="start" fill="#333" stroke="#333" stroke-width="0.1">HBA2</text>
<text x="395.8" y="178.6" font-size="4.8" text-anchor="middle" fill="#444" stroke="#444" stroke-width="0.1">α-globin</text>
<text transform="translate(360.7,213.55) rotate(-90) scale(0.865,1)" font-size="6.1" text-anchor="middle" fill="#231f20" stroke="#231f20" stroke-width="0.26">Fraction (%)</text>
<rect x="464.6" y="237.66" width="9.4" height="5.44" fill="#dc1e78"/>
<rect x="464.6" y="216.89" width="9.4" height="20.77" fill="#3aac4a"/>
<rect x="464.6" y="199.99" width="9.4" height="16.91" fill="#c8102f"/>
<rect x="464.6" y="184.6" width="9.4" height="15.39" fill="#16538b"/>
<rect x="475.8" y="240.17" width="9.4" height="2.93" fill="#dc1e78"/>
<rect x="475.8" y="222.04" width="9.4" height="18.13" fill="#3aac4a"/>
<rect x="475.8" y="202.15" width="9.4" height="19.89" fill="#c8102f"/>
<rect x="475.8" y="184.6" width="9.4" height="17.55" fill="#16538b"/>
<line x1="463.6" y1="183.4" x2="463.6" y2="243.5" stroke="#444444" stroke-width="0.75"/>
<line x1="463.6" y1="243.55" x2="489.1" y2="243.55" stroke="#444444" stroke-width="0.75"/>
<line x1="461.3" y1="243.1" x2="463.6" y2="243.1" stroke="#555" stroke-width="0.7"/>
<text x="460.4" y="245" font-size="5.4" text-anchor="end" fill="#333" stroke="#333" stroke-width="0.1">0%</text>
<line x1="461.3" y1="228.47" x2="463.6" y2="228.47" stroke="#555" stroke-width="0.7"/>
<text x="460.4" y="230.38" font-size="5.4" text-anchor="end" fill="#333" stroke="#333" stroke-width="0.1">25%</text>
<line x1="461.3" y1="213.85" x2="463.6" y2="213.85" stroke="#555" stroke-width="0.7"/>
<text x="460.4" y="215.75" font-size="5.4" text-anchor="end" fill="#333" stroke="#333" stroke-width="0.1">50%</text>
<line x1="461.3" y1="199.22" x2="463.6" y2="199.22" stroke="#555" stroke-width="0.7"/>
<text x="460.4" y="201.12" font-size="5.4" text-anchor="end" fill="#333" stroke="#333" stroke-width="0.1">75%</text>
<line x1="461.3" y1="184.6" x2="463.6" y2="184.6" stroke="#555" stroke-width="0.7"/>
<text x="460.4" y="186.5" font-size="5.4" text-anchor="end" fill="#333" stroke="#333" stroke-width="0.1">100%</text>
<line x1="469.3" y1="243.55" x2="469.3" y2="245.1" stroke="#444444" stroke-width="0.6"/>
<line x1="480.5" y1="243.55" x2="480.5" y2="245.1" stroke="#444444" stroke-width="0.6"/>
<text transform="translate(471.2,251.7) rotate(-45)" font-size="5.4" text-anchor="end" fill="#333" stroke="#333" stroke-width="0.1">Lean</text>
<text transform="translate(482.4,251.7) rotate(-45)" font-size="5.4" text-anchor="end" fill="#333" stroke="#333" stroke-width="0.1">Obese</text>
<rect x="487.6" y="184.7" width="4.2" height="4.2" fill="#e48a9b"/>
<text x="493.6" y="188.55" font-size="4.9" text-anchor="start" fill="#333" stroke="#333" stroke-width="0.1">HBE1</text>
<rect x="487.6" y="190.65" width="4.2" height="4.2" fill="#16538b"/>
<text x="493.6" y="194.5" font-size="4.9" text-anchor="start" fill="#333" stroke="#333" stroke-width="0.1">HBG1</text>
<rect x="487.6" y="196.6" width="4.2" height="4.2" fill="#c8102f"/>
<text x="493.6" y="200.45" font-size="4.9" text-anchor="start" fill="#333" stroke="#333" stroke-width="0.1">HBG2</text>
<rect x="487.6" y="202.55" width="4.2" height="4.2" fill="#3aac4a"/>
<text x="493.6" y="206.4" font-size="4.9" text-anchor="start" fill="#333" stroke="#333" stroke-width="0.1">HBB</text>
<rect x="487.6" y="208.5" width="4.2" height="4.2" fill="#dc1e78"/>
<text x="493.6" y="212.35" font-size="4.9" text-anchor="start" fill="#333" stroke="#333" stroke-width="0.1">HBD</text>
<text x="476.2" y="178.7" font-size="4.8" text-anchor="middle" fill="#444" stroke="#444" stroke-width="0.1">β-globin</text>
<text transform="translate(441.1,213.55) rotate(-90) scale(0.865,1)" font-size="6.1" text-anchor="middle" fill="#231f20" stroke="#231f20" stroke-width="0.26">Fraction (%)</text>
<text x="7.5" y="282.5" font-size="10.6" text-anchor="start" fill="#000" font-weight="bold">F</text>
<text x="76.5" y="285.82" font-size="5.6" text-anchor="middle" fill="#231f20" stroke="#231f20" stroke-width="0.1">EryP</text>
<line x1="33.1" y1="291" x2="33.1" y2="374.2" stroke="#555" stroke-width="1"/>
<line x1="33.1" y1="373.7" x2="119.8" y2="373.7" stroke="#555" stroke-width="1"/>
<line x1="30.7" y1="369.4" x2="33.1" y2="369.4" stroke="#555" stroke-width="0.8"/>
<text x="28.4" y="371.2" font-size="5" text-anchor="end" fill="#333" stroke="#333" stroke-width="0.1">0.0</text>
<line x1="30.7" y1="347.8" x2="33.1" y2="347.8" stroke="#555" stroke-width="0.8"/>
<text x="28.4" y="349.6" font-size="5" text-anchor="end" fill="#333" stroke="#333" stroke-width="0.1">2.5</text>
<line x1="30.7" y1="326.2" x2="33.1" y2="326.2" stroke="#555" stroke-width="0.8"/>
<text x="28.4" y="328" font-size="5" text-anchor="end" fill="#333" stroke="#333" stroke-width="0.1">5.0</text>
<line x1="30.7" y1="304.6" x2="33.1" y2="304.6" stroke="#555" stroke-width="0.8"/>
<text x="28.4" y="306.4" font-size="5" text-anchor="end" fill="#333" stroke="#333" stroke-width="0.1">7.5</text>
<line x1="40" y1="373.7" x2="40" y2="375.3" stroke="#444444" stroke-width="0.6"/>
<text transform="translate(41.6,381.3) rotate(-45)" font-size="4.9" text-anchor="end" fill="#333" stroke="#333" stroke-width="0.1">Hba-a1</text>
<line x1="52.1" y1="373.7" x2="52.1" y2="375.3" stroke="#444444" stroke-width="0.6"/>
<text transform="translate(53.7,381.3) rotate(-45)" font-size="4.9" text-anchor="end" fill="#333" stroke="#333" stroke-width="0.1">Hba-a2</text>
<line x1="64.2" y1="373.7" x2="64.2" y2="375.3" stroke="#444444" stroke-width="0.6"/>
<text transform="translate(65.8,381.3) rotate(-45)" font-size="4.9" text-anchor="end" fill="#333" stroke="#333" stroke-width="0.1">Hba-x</text>
<line x1="76.3" y1="373.7" x2="76.3" y2="375.3" stroke="#444444" stroke-width="0.6"/>
<text transform="translate(77.9,381.3) rotate(-45)" font-size="4.9" text-anchor="end" fill="#333" stroke="#333" stroke-width="0.1">Hbb-bh1</text>
<line x1="88.4" y1="373.7" x2="88.4" y2="375.3" stroke="#444444" stroke-width="0.6"/>
<text transform="translate(90,381.3) rotate(-45)" font-size="4.9" text-anchor="end" fill="#333" stroke="#333" stroke-width="0.1">Hbb-bs</text>
<line x1="100.5" y1="373.7" x2="100.5" y2="375.3" stroke="#444444" stroke-width="0.6"/>
<text transform="translate(102.1,381.3) rotate(-45)" font-size="4.9" text-anchor="end" fill="#333" stroke="#333" stroke-width="0.1">Hbb-bt</text>
<line x1="112.6" y1="373.7" x2="112.6" y2="375.3" stroke="#444444" stroke-width="0.6"/>
<text transform="translate(114.2,381.3) rotate(-45)" font-size="4.9" text-anchor="end" fill="#333" stroke="#333" stroke-width="0.1">Hbb-y</text>
<line x1="37.85" y1="300" x2="37.85" y2="313.8" stroke="#9c9c9c" stroke-width="0.6"/>
<rect x="36.05" y="304.8" width="3.6" height="3.7" fill="#c8102f"/>
<line x1="42.15" y1="301.2" x2="42.15" y2="308.5" stroke="#9c9c9c" stroke-width="0.6"/>
<rect x="40.35" y="304.2" width="3.6" height="2" fill="#1b4f80"/>
<path d="M38.15,295.2L38.15,297.2M37.28,295.7L39.02,296.7M37.28,296.7L39.02,295.7M40,295.2L40,297.2M39.13,295.7L40.87,296.7M39.13,296.7L40.87,295.7M41.85,295.2L41.85,297.2M40.98,295.7L42.72,296.7M40.98,296.7L42.72,295.7" stroke="#333" stroke-width="0.5" fill="none"/>
<line x1="49.95" y1="304.2" x2="49.95" y2="317.3" stroke="#9c9c9c" stroke-width="0.6"/>
<rect x="48.15" y="308.1" width="3.6" height="3.8" fill="#c8102f"/>
<line x1="54.25" y1="304.2" x2="54.25" y2="312.3" stroke="#9c9c9c" stroke-width="0.6"/>
<rect x="52.45" y="307" width="3.6" height="2.2" fill="#1b4f80"/>
<path d="M50.25,299.2L50.25,301.2M49.38,299.7L51.12,300.7M49.38,300.7L51.12,299.7M52.1,299.2L52.1,301.2M51.23,299.7L52.97,300.7M51.23,300.7L52.97,299.7M53.95,299.2L53.95,301.2M53.08,299.7L54.82,300.7M53.08,300.7L54.82,299.7" stroke="#333" stroke-width="0.5" fill="none"/>
<line x1="62.05" y1="302.3" x2="62.05" y2="325.4" stroke="#9c9c9c" stroke-width="0.6"/>
<rect x="60.25" y="307.8" width="3.6" height="7" fill="#c8102f"/>
<line x1="66.35" y1="302.8" x2="66.35" y2="325" stroke="#9c9c9c" stroke-width="0.6"/>
<rect x="64.55" y="310.8" width="3.6" height="5.7" fill="#1b4f80"/>
<path d="M62.35,298.2L62.35,300.2M61.48,298.7L63.22,299.7M61.48,299.7L63.22,298.7M64.2,298.2L64.2,300.2M63.33,298.7L65.07,299.7M63.33,299.7L65.07,298.7M66.05,298.2L66.05,300.2M65.18,298.7L66.92,299.7M65.18,299.7L66.92,298.7" stroke="#333" stroke-width="0.5" fill="none"/>
<line x1="74.15" y1="308.8" x2="74.15" y2="369.4" stroke="#9c9c9c" stroke-width="0.6"/>
<rect x="72.35" y="324.8" width="3.6" height="22.2" fill="#c8102f"/>
<line x1="78.45" y1="310.8" x2="78.45" y2="369.4" stroke="#9c9c9c" stroke-width="0.6"/>
<rect x="76.65" y="334.4" width="3.6" height="17.6" fill="#1b4f80"/>
<path d="M74.45,306L74.45,308M73.58,306.5L75.32,307.5M73.58,307.5L75.32,306.5M76.3,306L76.3,308M75.43,306.5L77.17,307.5M75.43,307.5L77.17,306.5M78.15,306L78.15,308M77.28,306.5L79.02,307.5M77.28,307.5L79.02,306.5" stroke="#333" stroke-width="0.5" fill="none"/>
<line x1="86.25" y1="304" x2="86.25" y2="343.5" stroke="#9c9c9c" stroke-width="0.6"/>
<rect x="84.45" y="319" width="3.6" height="9.7" fill="#c8102f"/>
<line x1="90.55" y1="304" x2="90.55" y2="338.6" stroke="#9c9c9c" stroke-width="0.6"/>
<rect x="88.75" y="316.5" width="3.6" height="8.7" fill="#1b4f80"/>
<path d="M86.55,299.8L86.55,301.8M85.68,300.3L87.42,301.3M85.68,301.3L87.42,300.3M88.4,299.8L88.4,301.8M87.53,300.3L89.27,301.3M87.53,301.3L89.27,300.3M90.25,299.8L90.25,301.8M89.38,300.3L91.12,301.3M89.38,301.3L91.12,300.3" stroke="#333" stroke-width="0.5" fill="none"/>
<line x1="98.35" y1="312.7" x2="98.35" y2="327" stroke="#9c9c9c" stroke-width="0.6"/>
<rect x="96.55" y="317.5" width="3.6" height="3.8" fill="#c8102f"/>
<line x1="102.65" y1="312.7" x2="102.65" y2="327" stroke="#9c9c9c" stroke-width="0.6"/>
<rect x="100.85" y="317.5" width="3.6" height="3.8" fill="#1b4f80"/>
<line x1="110.45" y1="295.8" x2="110.45" y2="299.3" stroke="#9c9c9c" stroke-width="0.6"/>
<rect x="108.65" y="296.6" width="3.6" height="1.8" fill="#c8102f"/>
<line x1="114.75" y1="295.8" x2="114.75" y2="299.3" stroke="#9c9c9c" stroke-width="0.6"/>
<rect x="112.95" y="296.8" width="3.6" height="1.4" fill="#1b4f80"/>
<line x1="126.6" y1="299.6" x2="126.6" y2="307.6" stroke="#9c9c9c" stroke-width="0.5"/>
<rect x="123" y="301.3" width="7.2" height="4.6" fill="#c8102f"/>
<text x="132.8" y="305.5" font-size="5.2" text-anchor="start" fill="#333" stroke="#333" stroke-width="0.1">CT</text>
<line x1="126.6" y1="308.3" x2="126.6" y2="316.3" stroke="#9c9c9c" stroke-width="0.5"/>
<rect x="123" y="310" width="7.2" height="4.6" fill="#1b4f80"/>
<text x="132.8" y="314.2" font-size="5.2" text-anchor="start" fill="#333" stroke="#333" stroke-width="0.1">MO</text>
<text transform="translate(16.23,332.2) rotate(-90) scale(0.78,1)" font-size="6.2" text-anchor="middle" fill="#231f20" stroke="#231f20" stroke-width="0.26">Expression</text>
<text x="156.5" y="282.3" font-size="10.6" text-anchor="start" fill="#000" font-weight="bold">G</text>
<text x="238.3" y="286.42" font-size="5.6" text-anchor="middle" fill="#231f20" stroke="#231f20" stroke-width="0.1">EryD</text>
<line x1="182.7" y1="291" x2="182.7" y2="374.4" stroke="#555" stroke-width="1"/>
<line x1="182.7" y1="373.9" x2="294.4" y2="373.9" stroke="#555" stroke-width="1"/>
<line x1="180.3" y1="369.6" x2="182.7" y2="369.6" stroke="#555" stroke-width="0.8"/>
<text x="178" y="371.4" font-size="5" text-anchor="end" fill="#333" stroke="#333" stroke-width="0.1">0</text>
<line x1="180.3" y1="351.88" x2="182.7" y2="351.88" stroke="#555" stroke-width="0.8"/>
<text x="178" y="353.68" font-size="5" text-anchor="end" fill="#333" stroke="#333" stroke-width="0.1">2</text>
<line x1="180.3" y1="334.16" x2="182.7" y2="334.16" stroke="#555" stroke-width="0.8"/>
<text x="178" y="335.96" font-size="5" text-anchor="end" fill="#333" stroke="#333" stroke-width="0.1">4</text>
<line x1="180.3" y1="316.44" x2="182.7" y2="316.44" stroke="#555" stroke-width="0.8"/>
<text x="178" y="318.24" font-size="5" text-anchor="end" fill="#333" stroke="#333" stroke-width="0.1">6</text>
<line x1="180.3" y1="298.72" x2="182.7" y2="298.72" stroke="#555" stroke-width="0.8"/>
<text x="178" y="300.52" font-size="5" text-anchor="end" fill="#333" stroke="#333" stroke-width="0.1">8</text>
<line x1="191.9" y1="373.9" x2="191.9" y2="375.5" stroke="#444444" stroke-width="0.6"/>
<text transform="translate(193.5,381.5) rotate(-45)" font-size="4.9" text-anchor="end" fill="#333" stroke="#333" stroke-width="0.1">Hba-a1</text>
<line x1="207.4" y1="373.9" x2="207.4" y2="375.5" stroke="#444444" stroke-width="0.6"/>
<text transform="translate(209,381.5) rotate(-45)" font-size="4.9" text-anchor="end" fill="#333" stroke="#333" stroke-width="0.1">Hba-a2</text>
<line x1="222.9" y1="373.9" x2="222.9" y2="375.5" stroke="#444444" stroke-width="0.6"/>
<text transform="translate(224.5,381.5) rotate(-45)" font-size="4.9" text-anchor="end" fill="#333" stroke="#333" stroke-width="0.1">Hba-x</text>
<line x1="238.4" y1="373.9" x2="238.4" y2="375.5" stroke="#444444" stroke-width="0.6"/>
<text transform="translate(240,381.5) rotate(-45)" font-size="4.9" text-anchor="end" fill="#333" stroke="#333" stroke-width="0.1">Hbb-bh1</text>
<line x1="253.9" y1="373.9" x2="253.9" y2="375.5" stroke="#444444" stroke-width="0.6"/>
<text transform="translate(255.5,381.5) rotate(-45)" font-size="4.9" text-anchor="end" fill="#333" stroke="#333" stroke-width="0.1">Hbb-bs</text>
<line x1="269.4" y1="373.9" x2="269.4" y2="375.5" stroke="#444444" stroke-width="0.6"/>
<text transform="translate(271,381.5) rotate(-45)" font-size="4.9" text-anchor="end" fill="#333" stroke="#333" stroke-width="0.1">Hbb-bt</text>
<line x1="284.9" y1="373.9" x2="284.9" y2="375.5" stroke="#444444" stroke-width="0.6"/>
<text transform="translate(286.5,381.5) rotate(-45)" font-size="4.9" text-anchor="end" fill="#333" stroke="#333" stroke-width="0.1">Hbb-y</text>
<line x1="189.3" y1="303.7" x2="189.3" y2="318" stroke="#9c9c9c" stroke-width="0.6"/>
<rect x="187.3" y="307" width="4" height="3.8" fill="#c8102f"/>
<line x1="194.5" y1="303" x2="194.5" y2="321" stroke="#9c9c9c" stroke-width="0.6"/>
<rect x="192.5" y="306" width="4" height="6" fill="#1b4f80"/>
<line x1="204.8" y1="305.6" x2="204.8" y2="324.8" stroke="#9c9c9c" stroke-width="0.6"/>
<rect x="202.8" y="309.4" width="4" height="5.8" fill="#c8102f"/>
<line x1="210" y1="304.2" x2="210" y2="330.6" stroke="#9c9c9c" stroke-width="0.6"/>
<rect x="208" y="309" width="4" height="7.7" fill="#1b4f80"/>
<line x1="218" y1="369.6" x2="222.6" y2="369.6" stroke="#b0b0b0" stroke-width="0.6"/>
<line x1="223.2" y1="369.6" x2="227.8" y2="369.6" stroke="#b0b0b0" stroke-width="0.6"/>
<line x1="233.5" y1="369.6" x2="238.1" y2="369.6" stroke="#b0b0b0" stroke-width="0.6"/>
<line x1="238.7" y1="369.6" x2="243.3" y2="369.6" stroke="#b0b0b0" stroke-width="0.6"/>
<line x1="251.3" y1="296" x2="251.3" y2="312.3" stroke="#9c9c9c" stroke-width="0.6"/>
<rect x="249.3" y="298.8" width="4" height="5.4" fill="#c8102f"/>
<line x1="256.5" y1="297" x2="256.5" y2="317" stroke="#9c9c9c" stroke-width="0.6"/>
<rect x="254.5" y="298.8" width="4" height="6.8" fill="#1b4f80"/>
<line x1="266.8" y1="304" x2="266.8" y2="319.4" stroke="#9c9c9c" stroke-width="0.6"/>
<rect x="264.8" y="307.9" width="4" height="4.8" fill="#c8102f"/>
<line x1="272" y1="304" x2="272" y2="324" stroke="#9c9c9c" stroke-width="0.6"/>
<rect x="270" y="307.9" width="4" height="6.7" fill="#1b4f80"/>
<line x1="280" y1="369.6" x2="284.6" y2="369.6" stroke="#b0b0b0" stroke-width="0.6"/>
<line x1="285.2" y1="369.6" x2="289.8" y2="369.6" stroke="#b0b0b0" stroke-width="0.6"/>
<line x1="304.8" y1="299.6" x2="304.8" y2="307.6" stroke="#9c9c9c" stroke-width="0.5"/>
<rect x="301.2" y="301.3" width="7.2" height="4.6" fill="#c8102f"/>
<text x="311" y="305.5" font-size="5.2" text-anchor="start" fill="#333" stroke="#333" stroke-width="0.1">CT</text>
<line x1="304.8" y1="308.4" x2="304.8" y2="316.4" stroke="#9c9c9c" stroke-width="0.5"/>
<rect x="301.2" y="310.1" width="7.2" height="4.6" fill="#1b4f80"/>
<text x="311" y="314.3" font-size="5.2" text-anchor="start" fill="#333" stroke="#333" stroke-width="0.1">MO</text>
<text transform="translate(170.03,332.3) rotate(-90) scale(0.78,1)" font-size="6.2" text-anchor="middle" fill="#231f20" stroke="#231f20" stroke-width="0.26">Expression</text>
<text x="334" y="282.8" font-size="10.6" text-anchor="start" fill="#000" font-weight="bold">H</text>
<text x="415" y="286.42" font-size="5.6" text-anchor="middle" fill="#231f20" stroke="#231f20" stroke-width="0.1">nRBC</text>
<line x1="364.2" y1="291" x2="364.2" y2="374.2" stroke="#555" stroke-width="1"/>
<line x1="364.2" y1="373.7" x2="466" y2="373.7" stroke="#555" stroke-width="1"/>
<line x1="361.8" y1="369.4" x2="364.2" y2="369.4" stroke="#555" stroke-width="0.8"/>
<text x="359.5" y="371.2" font-size="5" text-anchor="end" fill="#333" stroke="#333" stroke-width="0.1">0.0</text>
<line x1="361.8" y1="348.2" x2="364.2" y2="348.2" stroke="#555" stroke-width="0.8"/>
<text x="359.5" y="350" font-size="5" text-anchor="end" fill="#333" stroke="#333" stroke-width="0.1">2.5</text>
<line x1="361.8" y1="327" x2="364.2" y2="327" stroke="#555" stroke-width="0.8"/>
<text x="359.5" y="328.8" font-size="5" text-anchor="end" fill="#333" stroke="#333" stroke-width="0.1">5.0</text>
<line x1="361.8" y1="305.8" x2="364.2" y2="305.8" stroke="#555" stroke-width="0.8"/>
<text x="359.5" y="307.6" font-size="5" text-anchor="end" fill="#333" stroke="#333" stroke-width="0.1">7.5</text>
<line x1="370.9" y1="373.7" x2="370.9" y2="375.3" stroke="#444444" stroke-width="0.6"/>
<text transform="translate(372.5,381.3) rotate(-45)" font-size="4.9" text-anchor="end" fill="#333" stroke="#333" stroke-width="0.1">HBA1</text>
<line x1="383.5" y1="373.7" x2="383.5" y2="375.3" stroke="#444444" stroke-width="0.6"/>
<text transform="translate(385.1,381.3) rotate(-45)" font-size="4.9" text-anchor="end" fill="#333" stroke="#333" stroke-width="0.1">HBA2</text>
<line x1="396.1" y1="373.7" x2="396.1" y2="375.3" stroke="#444444" stroke-width="0.6"/>
<text transform="translate(397.7,381.3) rotate(-45)" font-size="4.9" text-anchor="end" fill="#333" stroke="#333" stroke-width="0.1">HBB</text>
<line x1="408.7" y1="373.7" x2="408.7" y2="375.3" stroke="#444444" stroke-width="0.6"/>
<text transform="translate(410.3,381.3) rotate(-45)" font-size="4.9" text-anchor="end" fill="#333" stroke="#333" stroke-width="0.1">HBD</text>
<line x1="421.3" y1="373.7" x2="421.3" y2="375.3" stroke="#444444" stroke-width="0.6"/>
<text transform="translate(422.9,381.3) rotate(-45)" font-size="4.9" text-anchor="end" fill="#333" stroke="#333" stroke-width="0.1">HBE1</text>
<line x1="433.9" y1="373.7" x2="433.9" y2="375.3" stroke="#444444" stroke-width="0.6"/>
<text transform="translate(435.5,381.3) rotate(-45)" font-size="4.9" text-anchor="end" fill="#333" stroke="#333" stroke-width="0.1">HBG1</text>
<line x1="446.5" y1="373.7" x2="446.5" y2="375.3" stroke="#444444" stroke-width="0.6"/>
<text transform="translate(448.1,381.3) rotate(-45)" font-size="4.9" text-anchor="end" fill="#333" stroke="#333" stroke-width="0.1">HBG2</text>
<line x1="459.1" y1="373.7" x2="459.1" y2="375.3" stroke="#444444" stroke-width="0.6"/>
<text transform="translate(460.7,381.3) rotate(-45)" font-size="4.9" text-anchor="end" fill="#333" stroke="#333" stroke-width="0.1">HBZ</text>
<line x1="368.7" y1="305.6" x2="368.7" y2="325.8" stroke="#9c9c9c" stroke-width="0.6"/>
<rect x="366.75" y="312" width="3.9" height="5" fill="#c8102f"/>
<line x1="373.1" y1="310.4" x2="373.1" y2="322.9" stroke="#9c9c9c" stroke-width="0.6"/>
<rect x="371.15" y="315.2" width="3.9" height="3.3" fill="#1b4f80"/>
<path d="M368.12,297.8L368.12,299.8M367.26,298.3L368.99,299.3M367.26,299.3L368.99,298.3M369.98,297.8L369.98,299.8M369.11,298.3L370.84,299.3M369.11,299.3L370.84,298.3M371.82,297.8L371.82,299.8M370.96,298.3L372.69,299.3M370.96,299.3L372.69,298.3M373.68,297.8L373.68,299.8M372.81,298.3L374.54,299.3M372.81,299.3L374.54,298.3" stroke="#333" stroke-width="0.5" fill="none"/>
<line x1="381.3" y1="303.7" x2="381.3" y2="322.9" stroke="#9c9c9c" stroke-width="0.6"/>
<rect x="379.35" y="308" width="3.9" height="5.8" fill="#c8102f"/>
<line x1="385.7" y1="306.5" x2="385.7" y2="318" stroke="#9c9c9c" stroke-width="0.6"/>
<rect x="383.75" y="311" width="3.9" height="3.6" fill="#1b4f80"/>
<path d="M381.65,297.8L381.65,299.8M380.78,298.3L382.52,299.3M380.78,299.3L382.52,298.3M383.5,297.8L383.5,299.8M382.63,298.3L384.37,299.3M382.63,299.3L384.37,298.3M385.35,297.8L385.35,299.8M384.48,298.3L386.22,299.3M384.48,299.3L386.22,298.3" stroke="#333" stroke-width="0.5" fill="none"/>
<line x1="393.9" y1="292" x2="393.9" y2="329.6" stroke="#9c9c9c" stroke-width="0.6"/>
<rect x="391.95" y="300.8" width="3.9" height="11.9" fill="#c8102f"/>
<line x1="398.3" y1="292" x2="398.3" y2="325.8" stroke="#9c9c9c" stroke-width="0.6"/>
<rect x="396.35" y="304.2" width="3.9" height="8.5" fill="#1b4f80"/>
<path d="M393.32,290.6L393.32,292.6M392.46,291.1L394.19,292.1M392.46,292.1L394.19,291.1M395.18,290.6L395.18,292.6M394.31,291.1L396.04,292.1M394.31,292.1L396.04,291.1M397.02,290.6L397.02,292.6M396.16,291.1L397.89,292.1M396.16,292.1L397.89,291.1M398.88,290.6L398.88,292.6M398.01,291.1L399.74,292.1M398.01,292.1L399.74,291.1" stroke="#333" stroke-width="0.5" fill="none"/>
<line x1="406.5" y1="324.8" x2="406.5" y2="369.4" stroke="#9c9c9c" stroke-width="0.6"/>
<rect x="404.55" y="342" width="3.9" height="27.4" fill="#c8102f"/>
<line x1="410.9" y1="327.5" x2="410.9" y2="369.4" stroke="#9c9c9c" stroke-width="0.6"/>
<rect x="408.95" y="352.7" width="3.9" height="16.7" fill="#1b4f80"/>
<path d="M406.85,320L406.85,322M405.98,320.5L407.72,321.5M405.98,321.5L407.72,320.5M408.7,320L408.7,322M407.83,320.5L409.57,321.5M407.83,321.5L409.57,320.5M410.55,320L410.55,322M409.68,320.5L411.42,321.5M409.68,321.5L411.42,320.5" stroke="#333" stroke-width="0.5" fill="none"/>
<line x1="416.85" y1="369.4" x2="421.35" y2="369.4" stroke="#b0b0b0" stroke-width="0.6"/>
<line x1="421.25" y1="369.4" x2="425.75" y2="369.4" stroke="#b0b0b0" stroke-width="0.6"/>
<line x1="431.7" y1="305.2" x2="431.7" y2="359.9" stroke="#9c9c9c" stroke-width="0.6"/>
<rect x="429.75" y="313" width="3.9" height="18.8" fill="#c8102f"/>
<line x1="436.1" y1="305.2" x2="436.1" y2="327" stroke="#9c9c9c" stroke-width="0.6"/>
<rect x="434.15" y="309.2" width="3.9" height="6.9" fill="#1b4f80"/>
<path d="M432.05,298.8L432.05,300.8M431.18,299.3L432.92,300.3M431.18,300.3L432.92,299.3M433.9,298.8L433.9,300.8M433.03,299.3L434.77,300.3M433.03,300.3L434.77,299.3M435.75,298.8L435.75,300.8M434.88,299.3L436.62,300.3M434.88,300.3L436.62,299.3" stroke="#333" stroke-width="0.5" fill="none"/>
<line x1="444.3" y1="298.8" x2="444.3" y2="366.7" stroke="#9c9c9c" stroke-width="0.6"/>
<rect x="442.35" y="306.5" width="3.9" height="24.8" fill="#c8102f"/>
<line x1="448.7" y1="296" x2="448.7" y2="318" stroke="#9c9c9c" stroke-width="0.6"/>
<rect x="446.75" y="300.5" width="3.9" height="7" fill="#1b4f80"/>
<path d="M444.65,293L444.65,295M443.78,293.5L445.52,294.5M443.78,294.5L445.52,293.5M446.5,293L446.5,295M445.63,293.5L447.37,294.5M445.63,294.5L447.37,293.5M448.35,293L448.35,295M447.48,293.5L449.22,294.5M447.48,294.5L449.22,293.5" stroke="#333" stroke-width="0.5" fill="none"/>
<line x1="456.9" y1="346" x2="456.9" y2="369.4" stroke="#9c9c9c" stroke-width="0.6"/>
<rect x="454.95" y="359.4" width="3.9" height="10" fill="#c8102f"/>
<line x1="461.3" y1="346.5" x2="461.3" y2="369.4" stroke="#9c9c9c" stroke-width="0.6"/>
<rect x="459.35" y="359.8" width="3.9" height="9.6" fill="#1b4f80"/>
<line x1="475.4" y1="299.5" x2="475.4" y2="307.5" stroke="#9c9c9c" stroke-width="0.5"/>
<rect x="471.8" y="301.2" width="7.2" height="4.6" fill="#c8102f"/>
<text x="481.6" y="305.4" font-size="5.2" text-anchor="start" fill="#333" stroke="#333" stroke-width="0.1">Lean</text>
<line x1="475.4" y1="308.8" x2="475.4" y2="316.8" stroke="#9c9c9c" stroke-width="0.5"/>
<rect x="471.8" y="310.5" width="7.2" height="4.6" fill="#1b4f80"/>
<text x="481.6" y="314.7" font-size="5.2" text-anchor="start" fill="#333" stroke="#333" stroke-width="0.1">Obese</text>
<text transform="translate(346.13,332.2) rotate(-90) scale(0.78,1)" font-size="6.2" text-anchor="middle" fill="#231f20" stroke="#231f20" stroke-width="0.26">Expression</text>
<text x="9.2" y="418.6" font-size="10.6" text-anchor="start" fill="#000" font-weight="bold">I</text>
<path d="M55,434.5 C58,430.5 66,429.8 71.5,433.5 C76,437 77.5,443 76,448" fill="none" stroke="#6a2558" stroke-width="3.75" stroke-linecap="round" stroke-linejoin="round"/>
<path d="M55,434.5 C58,430.5 66,429.8 71.5,433.5 C76,437 77.5,443 76,448" fill="none" stroke="#8e3476" stroke-width="2.85" stroke-linecap="round" stroke-linejoin="round"/>
<path d="M59,440 C59.5,436 63.5,434 67.5,435 C71.5,436.5 72.5,441 70,444.5 C67.5,447 62,446.5 59,440 Z" fill="none" stroke="#6a2558" stroke-width="3.35" stroke-linecap="round" stroke-linejoin="round"/>
<path d="M59,440 C59.5,436 63.5,434 67.5,435 C71.5,436.5 72.5,441 70,444.5 C67.5,447 62,446.5 59,440 Z" fill="none" stroke="#8e3476" stroke-width="2.45" stroke-linecap="round" stroke-linejoin="round"/>
<path d="M28.5,462 C27,467.5 29,475 35,478.8 C40,481.2 45.5,480.8 48.5,477.5" fill="none" stroke="#6a2558" stroke-width="3.75" stroke-linecap="round" stroke-linejoin="round"/>
<path d="M28.5,462 C27,467.5 29,475 35,478.8 C40,481.2 45.5,480.8 48.5,477.5" fill="none" stroke="#8e3476" stroke-width="2.85" stroke-linecap="round" stroke-linejoin="round"/>
<path d="M32.5,470 C33,466 37,464 41,465 C45,466.5 46,471 43.5,474.5 C40.5,477.5 34,476 32.5,470 Z" fill="none" stroke="#6a2558" stroke-width="3.35" stroke-linecap="round" stroke-linejoin="round"/>
<path d="M32.5,470 C33,466 37,464 41,465 C45,466.5 46,471 43.5,474.5 C40.5,477.5 34,476 32.5,470 Z" fill="none" stroke="#8e3476" stroke-width="2.45" stroke-linecap="round" stroke-linejoin="round"/>
<circle cx="77" cy="449" r="2.0" fill="#6a2558"/>
<circle cx="27.6" cy="461" r="2.0" fill="#6a2558"/>
<path d="M26.8,449 C25.5,442 29,434.5 36.5,431.5 C43,429.5 49.5,431.5 51,437.5" fill="none" stroke="#c04560" stroke-width="3.95" stroke-linecap="round" stroke-linejoin="round"/>
<path d="M26.8,449 C25.5,442 29,434.5 36.5,431.5 C43,429.5 49.5,431.5 51,437.5" fill="none" stroke="#e45e7b" stroke-width="3.0500000000000003" stroke-linecap="round" stroke-linejoin="round"/>
<path d="M32,441 C32,436 37,433.5 42,434.5 C47,436 48,441 45,444.5 C42,447.5 34,447 32,441 Z" fill="none" stroke="#c04560" stroke-width="3.65" stroke-linecap="round" stroke-linejoin="round"/>
<path d="M32,441 C32,436 37,433.5 42,434.5 C47,436 48,441 45,444.5 C42,447.5 34,447 32,441 Z" fill="none" stroke="#e45e7b" stroke-width="2.75" stroke-linecap="round" stroke-linejoin="round"/>
<path d="M38,432 C35,438 36,445 40,451" fill="none" stroke="#c04560" stroke-width="3.5500000000000003" stroke-linecap="round" stroke-linejoin="round"/>
<path d="M38,432 C35,438 36,445 40,451" fill="none" stroke="#e45e7b" stroke-width="2.6500000000000004" stroke-linecap="round" stroke-linejoin="round"/>
<path d="M44,431 C49,436 47,443 43,448" fill="none" stroke="#c04560" stroke-width="3.35" stroke-linecap="round" stroke-linejoin="round"/>
<path d="M44,431 C49,436 47,443 43,448" fill="none" stroke="#e45e7b" stroke-width="2.45" stroke-linecap="round" stroke-linejoin="round"/>
<path d="M78,461 C79.2,468 76,476 68.5,479 C61.5,481.5 55,479.5 53.5,474" fill="none" stroke="#c04560" stroke-width="3.95" stroke-linecap="round" stroke-linejoin="round"/>
<path d="M78,461 C79.2,468 76,476 68.5,479 C61.5,481.5 55,479.5 53.5,474" fill="none" stroke="#e45e7b" stroke-width="3.0500000000000003" stroke-linecap="round" stroke-linejoin="round"/>
<path d="M57,470 C57,465 62,462.5 67,463.5 C72,465 73,470 70,473.5 C67,476.5 59,476 57,470 Z" fill="none" stroke="#c04560" stroke-width="3.65" stroke-linecap="round" stroke-linejoin="round"/>
<path d="M57,470 C57,465 62,462.5 67,463.5 C72,465 73,470 70,473.5 C67,476.5 59,476 57,470 Z" fill="none" stroke="#e45e7b" stroke-width="2.75" stroke-linecap="round" stroke-linejoin="round"/>
<path d="M66,462 C69,467 68.5,473 65,478" fill="none" stroke="#c04560" stroke-width="3.5500000000000003" stroke-linecap="round" stroke-linejoin="round"/>
<path d="M66,462 C69,467 68.5,473 65,478" fill="none" stroke="#e45e7b" stroke-width="2.6500000000000004" stroke-linecap="round" stroke-linejoin="round"/>
<path d="M60,480 C55.5,475 57,468 61,463" fill="none" stroke="#c04560" stroke-width="3.35" stroke-linecap="round" stroke-linejoin="round"/>
<path d="M60,480 C55.5,475 57,468 61,463" fill="none" stroke="#e45e7b" stroke-width="2.45" stroke-linecap="round" stroke-linejoin="round"/>
<path d="M57,446 C61,442 66,441 70,444" fill="none" stroke="#c04560" stroke-width="3.35" stroke-linecap="round" stroke-linejoin="round"/>
<path d="M57,446 C61,442 66,441 70,444" fill="none" stroke="#e45e7b" stroke-width="2.45" stroke-linecap="round" stroke-linejoin="round"/>
<path d="M34,465 C38,468 43,468 47,464" fill="none" stroke="#c04560" stroke-width="3.35" stroke-linecap="round" stroke-linejoin="round"/>
<path d="M34,465 C38,468 43,468 47,464" fill="none" stroke="#e45e7b" stroke-width="2.45" stroke-linecap="round" stroke-linejoin="round"/>
<path d="M40.5,451.5 C44,449 48.5,450.5 48.8,455 C49,459.5 45,462 41.5,460 C38.5,458 38,454 40.5,451.5 Z" fill="none" stroke="#c04560" stroke-width="3.75" stroke-linecap="round" stroke-linejoin="round"/>
<path d="M40.5,451.5 C44,449 48.5,450.5 48.8,455 C49,459.5 45,462 41.5,460 C38.5,458 38,454 40.5,451.5 Z" fill="none" stroke="#e45e7b" stroke-width="2.85" stroke-linecap="round" stroke-linejoin="round"/>
<path d="M56.5,449.5 C60,447 64.5,448.5 64.8,453 C65,457.5 61,460 57.5,458 C54.5,456 54,452 56.5,449.5 Z" fill="none" stroke="#c04560" stroke-width="3.75" stroke-linecap="round" stroke-linejoin="round"/>
<path d="M56.5,449.5 C60,447 64.5,448.5 64.8,453 C65,457.5 61,460 57.5,458 C54.5,456 54,452 56.5,449.5 Z" fill="none" stroke="#e45e7b" stroke-width="2.85" stroke-linecap="round" stroke-linejoin="round"/>
<path d="M49.5,436 C47,446 47.5,465 51.5,477" fill="none" stroke="#c04560" stroke-width="3.85" stroke-linecap="round" stroke-linejoin="round"/>
<path d="M49.5,436 C47,446 47.5,465 51.5,477" fill="none" stroke="#e45e7b" stroke-width="2.95" stroke-linecap="round" stroke-linejoin="round"/>
<path d="M54.5,435 C57.5,446 57,465 53,478" fill="none" stroke="#c04560" stroke-width="3.65" stroke-linecap="round" stroke-linejoin="round"/>
<path d="M54.5,435 C57.5,446 57,465 53,478" fill="none" stroke="#e45e7b" stroke-width="2.75" stroke-linecap="round" stroke-linejoin="round"/>
<path d="M26.5,452.5 C31,453.5 35.5,455.5 37.5,460" fill="none" stroke="#c04560" stroke-width="3.5500000000000003" stroke-linecap="round" stroke-linejoin="round"/>
<path d="M26.5,452.5 C31,453.5 35.5,455.5 37.5,460" fill="none" stroke="#e45e7b" stroke-width="2.6500000000000004" stroke-linecap="round" stroke-linejoin="round"/>
<path d="M78,458.5 C73,457.5 68,455 66,450" fill="none" stroke="#c04560" stroke-width="3.5500000000000003" stroke-linecap="round" stroke-linejoin="round"/>
<path d="M78,458.5 C73,457.5 68,455 66,450" fill="none" stroke="#e45e7b" stroke-width="2.6500000000000004" stroke-linecap="round" stroke-linejoin="round"/>
<rect x="49.6" y="453.6" width="5.2" height="2.4" fill="#fff"/>
<path d="M41.9,446.3 L44.2,443.6 L46.9,445.6 L44.7,448.5 Z" fill="#f6c83a" stroke="#d08a1a" stroke-width="0.5"/>
<circle cx="44.5" cy="446" r="0.8" fill="#b8202e"/>
<path d="M56.3,445.8 L58.6,443.1 L61.3,445.1 L59.1,448.0 Z" fill="#f6c83a" stroke="#d08a1a" stroke-width="0.5"/>
<circle cx="58.9" cy="445.5" r="0.8" fill="#b8202e"/>
<path d="M41.9,464.3 L44.2,461.6 L46.9,463.6 L44.7,466.5 Z" fill="#f6c83a" stroke="#d08a1a" stroke-width="0.5"/>
<circle cx="44.5" cy="464" r="0.8" fill="#b8202e"/>
<path d="M55.699999999999996,463.1 L58.0,460.40000000000003 L60.699999999999996,462.40000000000003 L58.5,465.3 Z" fill="#f6c83a" stroke="#d08a1a" stroke-width="0.5"/>
<circle cx="58.3" cy="462.8" r="0.8" fill="#b8202e"/>
<line x1="80" y1="427" x2="59.5" y2="445.2" stroke="#222" stroke-width="0.6"/>
<line x1="90.8" y1="468.5" x2="74.6" y2="465.4" stroke="#222" stroke-width="0.6"/>
<text x="83" y="427.4" font-size="5" text-anchor="start" fill="#231f20" stroke="#231f20" stroke-width="0.1">Heme</text>
<text x="92.3" y="470.7" font-size="5" text-anchor="start" fill="#231f20" stroke="#231f20" stroke-width="0.1">Globins</text>
<line x1="47.2" y1="488.9" x2="52" y2="482" stroke="#222" stroke-width="0.6"/>
<path d="M53.2,480.3 L50.6,482.0 L53.0,483.6 Z" fill="#222"/>
<ellipse cx="52.1" cy="515.5" rx="26.9" ry="23.6" fill="#d03043" stroke="#9a1b2a" stroke-width="0.9"/>
<ellipse cx="52.1" cy="515.3" rx="24.6" ry="21.2" fill="none" stroke="#d94050" stroke-width="1.2" opacity="0.7"/>
<ellipse cx="55.5" cy="513.2" rx="10.5" ry="11.5" fill="none" stroke="#d53d4e" stroke-width="1.2"/>
<path d="M56,501.1 C53,499.8 50,499.6 47.3,500.2 C44.8,500.8 42.6,502.0 41.3,503.7 C39.2,506 38.2,508.2 38.2,510.6 C38.2,513 38.6,515.3 39.5,517.5 C40.8,519.6 42.6,521 44.7,521.8 C46.7,522.7 48.8,523.4 50.8,523.6 C49.6,522 48.9,520.2 48.6,518.4 C48.3,516 48.3,513.8 48.6,511.5 C48.9,509.2 49.6,507.2 50.8,505.4 C52.2,503.4 54,502 56,501.1 Z" fill="#b0182d"/>
<path d="M64.6,504.5 C67,506.8 68.5,509.5 68.5,512.3 C68.5,515.3 67.8,518 66.4,520.1 C64.4,522.8 61.6,524.2 58.6,524.9" fill="none" stroke="#ee7888" stroke-width="1.2"/>
<g fill="none" stroke="#505050" stroke-width="0.42"><path d="M104,420.5 L107,418 L114,418 L117,420.5 L114,423 L107,423 Z"/><path d="M123,420.5 L126,418 L133,418 L136,420.5 L133,423 L126,423 Z"/><path d="M104,425 L107,422.5 L114,422.5 L117,425 L114,427.5 L107,427.5 Z"/><path d="M123,425 L126,422.5 L133,422.5 L136,425 L133,427.5 L126,427.5 Z"/><path d="M104,429.5 L107,427 L114,427 L117,429.5 L114,432 L107,432 Z"/><path d="M123,429.5 L126,427 L133,427 L136,429.5 L133,432 L126,432 Z"/><path d="M114,418 L117,417.5 L123,417.5 L126,418 M114,432 L117,432.5 L123,432.5 L126,432"/></g>
<line x1="120" y1="412" x2="120" y2="439" stroke="#888" stroke-width="0.5"/>
<circle cx="120" cy="411.4" r="2.3" fill="#e0588a"/>
<circle cx="120" cy="425.5" r="2.4" fill="#a0182c"/>
<circle cx="120" cy="439.4" r="2.4" fill="#1f9ad0"/>
<line x1="144.4" y1="432.3" x2="153.5" y2="436.3" stroke="#222" stroke-width="0.6"/>
<path d="M155.2,437.0 L151.8,437.6 L153.2,434.6 Z" fill="#222"/>
<rect x="163.8" y="425.4" width="262.9" height="108.4" rx="8" ry="8" fill="none" stroke="#8497a6" stroke-width="1.1"/>
<text x="297.4" y="419.85" font-size="5.7" text-anchor="middle" fill="#231f20" stroke="#231f20" stroke-width="0.1">Heme biosynthesis</text>
<text x="216.2" y="439.1" font-size="5" text-anchor="middle" fill="#231f20" stroke="#231f20" stroke-width="0.1">Glycine + Succinyl-CoA</text>
<text x="216.2" y="461.8" font-size="5" text-anchor="middle" fill="#231f20" stroke="#231f20" stroke-width="0.1">Aminolevulinic acid</text>
<text x="216.2" y="483.9" font-size="5" text-anchor="middle" fill="#231f20" stroke="#231f20" stroke-width="0.1">Porphobilinogen</text>
<text x="216.2" y="504.1" font-size="5" text-anchor="middle" fill="#231f20" stroke="#231f20" stroke-width="0.1">Hydroxymethylbilane</text>
<text x="216.2" y="524.1" font-size="5" text-anchor="middle" fill="#231f20" stroke="#231f20" stroke-width="0.1">Uroporphyrinogen III</text>
<line x1="216.2" y1="441.1" x2="216.2" y2="450.9" stroke="#777" stroke-width="0.9"/>
<path d="M214.9,450.2 L217.5,450.2 L216.2,452.4 Z" fill="#111"/>
<text x="219.3" y="446" font-size="5" text-anchor="start" fill="#b8416a" stroke="#b8416a" stroke-width="0.1">ALAS</text>
<line x1="216.2" y1="463.8" x2="216.2" y2="473" stroke="#777" stroke-width="0.9"/>
<path d="M214.9,472.3 L217.5,472.3 L216.2,474.5 Z" fill="#111"/>
<text x="219.3" y="469.1" font-size="5" text-anchor="start" fill="#b8416a" stroke="#b8416a" stroke-width="0.1">ALAD</text>
<line x1="216.2" y1="485.9" x2="216.2" y2="493.2" stroke="#777" stroke-width="0.9"/>
<path d="M214.9,492.5 L217.5,492.5 L216.2,494.7 Z" fill="#111"/>
<text x="219.3" y="491" font-size="5" text-anchor="start" fill="#b8416a" stroke="#b8416a" stroke-width="0.1">HMBS</text>
<line x1="216.2" y1="506.1" x2="216.2" y2="513.2" stroke="#777" stroke-width="0.9"/>
<path d="M214.9,512.5 L217.5,512.5 L216.2,514.7 Z" fill="#111"/>
<text x="219.3" y="511.2" font-size="5" text-anchor="start" fill="#b8416a" stroke="#b8416a" stroke-width="0.1">UROS</text>
<path d="M250.1,493C250.13,490.08 250.3,488.68 251.4,486C252.5,483.32 254.02,479.98 256.7,476.9C259.38,473.82 263.02,470.18 267.5,467.5C271.98,464.82 278,462.57 283.6,460.8C289.2,459.03 295.03,457.73 301.1,456.9C307.17,456.07 312.68,455.6 320,455.8C327.32,456 338.33,456.9 345,458.1C351.67,459.3 355.77,461.43 360,463C364.23,464.57 366.93,465.53 370.4,467.5C373.87,469.47 377.68,472.03 380.8,474.8C383.92,477.57 387.02,480.82 389.1,484.1C391.18,487.38 392.7,491.03 393.3,494.5C393.9,497.97 393.57,501.6 392.7,504.9C391.83,508.2 390.35,511.45 388.1,514.3C385.85,517.15 382.35,520.38 379.2,522C376.05,523.62 372.15,523.78 369.2,524C366.25,524.22 364.7,523.97 361.5,523.3C358.3,522.63 353.83,521.25 350,520C346.17,518.75 342.83,516.8 338.5,515.8C334.17,514.8 328.02,514.23 324,514C319.98,513.77 317.9,513.8 314.4,514.4C310.9,515 307.02,516.53 303,517.6C298.98,518.67 294.18,519.92 290.3,520.8C286.42,521.68 283.22,522.57 279.7,522.9C276.18,523.23 272.18,523.4 269.2,522.8C266.22,522.2 264.1,520.93 261.8,519.3C259.5,517.67 257.17,515.63 255.4,513C253.63,510.37 252.08,506.83 251.2,503.5C250.32,500.17 250.07,495.92 250.1,493Z" fill="#fcf1ec" stroke="#6e463d" stroke-width="1.05"/>
<path d="M258.2,496.5C257.93,494.17 258.17,493.15 258.4,492C258.63,490.85 258.75,490.37 259.6,489.6C260.45,488.83 261.9,487.57 263.5,487.4C265.1,487.23 267.68,488.15 269.2,488.6C270.72,489.05 271.77,490.22 272.6,490.1C273.43,489.98 274.17,489.02 274.2,487.9C274.23,486.78 273.52,484.82 272.8,483.4C272.08,481.98 270.3,480.73 269.9,479.4C269.5,478.07 269.72,476.47 270.4,475.4C271.08,474.33 272.6,473.4 274,473C275.4,472.6 277.35,472.45 278.8,473C280.25,473.55 281.73,475.02 282.7,476.3C283.67,477.58 283.83,479.57 284.6,480.7C285.37,481.83 286.5,483.1 287.3,483.1C288.1,483.1 288.97,482.3 289.4,480.7C289.83,479.1 289.42,475.43 289.9,473.5C290.38,471.57 290.95,470.38 292.3,469.1C293.65,467.82 295.88,466.65 298,465.8C300.12,464.95 302.9,464.33 305,464C307.1,463.67 309.1,463.5 310.6,463.8C312.1,464.1 313.22,464.35 314,465.8C314.78,467.25 314.73,470.75 315.3,472.5C315.87,474.25 316.65,475.83 317.4,476.3C318.15,476.77 319.2,476.35 319.8,475.3C320.4,474.25 320.45,471.72 321,470C321.55,468.28 321.72,466.12 323.1,465C324.48,463.88 326.53,463.37 329.3,463.3C332.07,463.23 337.03,464.15 339.7,464.6C342.37,465.05 343.98,464.85 345.3,466C346.62,467.15 347.13,469.33 347.6,471.5C348.07,473.67 347.63,477.05 348.1,479C348.57,480.95 349.45,482.65 350.4,483.2C351.35,483.75 352.85,483.22 353.8,482.3C354.75,481.38 355.13,479.23 356.1,477.7C357.07,476.17 357.87,474.07 359.6,473.1C361.33,472.13 364.38,471.33 366.5,471.9C368.62,472.47 371.15,474.38 372.3,476.5C373.45,478.62 373.35,482.18 373.4,484.6C373.45,487.02 372.2,489.5 372.6,491C373,492.5 374.12,493.67 375.8,493.6C377.48,493.53 380.98,490.53 382.7,490.6C384.42,490.67 385.53,492.3 386.1,494C386.67,495.7 386.62,498.47 386.1,500.8C385.58,503.13 384.43,505.88 383,508C381.57,510.12 379.28,512.2 377.5,513.5C375.72,514.8 373.72,516.05 372.3,515.8C370.88,515.55 369.72,513.72 369,512C368.28,510.28 368.67,506.97 368,505.5C367.33,504.03 366.02,503.52 365,503.2C363.98,502.88 362.73,502.72 361.9,503.6C361.07,504.48 360.77,506.93 360,508.5C359.23,510.07 358.72,512.08 357.3,513C355.88,513.92 353.38,514.17 351.5,514C349.62,513.83 347.32,513.08 346,512C344.68,510.92 344.3,509.72 343.6,507.5C342.9,505.28 342.62,500.78 341.8,498.7C340.98,496.62 339.83,495.53 338.7,495C337.57,494.47 335.87,494.88 335,495.5C334.13,496.12 334.25,497.03 333.5,498.7C332.75,500.37 331.92,504.08 330.5,505.5C329.08,506.92 327.08,506.95 325,507.2C322.92,507.45 319.87,507.45 318,507C316.13,506.55 314.77,505.88 313.8,504.5C312.83,503.12 312.73,500.95 312.2,498.7C311.67,496.45 311.38,492.48 310.6,491C309.82,489.52 308.5,489.38 307.5,489.8C306.5,490.22 305.43,491.47 304.6,493.5C303.77,495.53 303.43,499.67 302.5,502C301.57,504.33 300.75,505.7 299,507.5C297.25,509.3 294.33,511.62 292,512.8C289.67,513.98 286.73,514.82 285,514.6C283.27,514.38 282.33,513.13 281.6,511.5C280.87,509.87 281.27,506.32 280.6,504.8C279.93,503.28 278.6,502.6 277.6,502.4C276.6,502.2 275.3,502.4 274.6,503.6C273.9,504.8 274.07,507.98 273.4,509.6C272.73,511.22 272.02,512.83 270.6,513.3C269.18,513.77 266.67,513.62 264.9,512.4C263.13,511.18 261.12,508.65 260,506C258.88,503.35 258.47,498.83 258.2,496.5Z" fill="#fffcfa" stroke="#6e463d" stroke-width="1.05"/>
<text x="315.4" y="461.6" font-size="5" text-anchor="middle" fill="#231f20" stroke="#231f20" stroke-width="0.1">Heme</text>
<text x="315.8" y="483.1" font-size="5" text-anchor="middle" fill="#231f20" stroke="#231f20" stroke-width="0.1">Protoporphyrin IX</text>
<text x="315.5" y="504" font-size="5" text-anchor="middle" fill="#231f20" stroke="#231f20" stroke-width="0.1">Protoporphyrinogen IX</text>
<text x="315.8" y="523.4" font-size="5" text-anchor="middle" fill="#231f20" stroke="#231f20" stroke-width="0.1">Coproporphyrinogen III</text>
<text x="318.2" y="474.6" font-size="5" text-anchor="start" fill="#b8416a" stroke="#b8416a" stroke-width="0.1">FECH</text>
<text x="318.2" y="495.6" font-size="5" text-anchor="start" fill="#b8416a" stroke="#b8416a" stroke-width="0.1">PPOX</text>
<text x="318.2" y="515.3" font-size="5" text-anchor="start" fill="#b8416a" stroke="#b8416a" stroke-width="0.1">CPOX</text>
<line x1="315.5" y1="518.2" x2="315.5" y2="510.5" stroke="#777" stroke-width="0.85"/>
<path d="M314.2,511.2 L316.8,511.2 L315.5,509 Z" fill="#111"/>
<line x1="315.5" y1="499.4" x2="315.5" y2="486.7" stroke="#777" stroke-width="0.85"/>
<path d="M314.2,487.4 L316.8,487.4 L315.5,485.2 Z" fill="#111"/>
<line x1="315.5" y1="480" x2="315.5" y2="465.1" stroke="#777" stroke-width="0.85"/>
<path d="M314.2,465.8 L316.8,465.8 L315.5,463.6 Z" fill="#111"/>
<text x="254" y="519.8" font-size="5" text-anchor="start" fill="#b8416a" stroke="#b8416a" stroke-width="0.1">UROD</text>
<line x1="254.5" y1="524.4" x2="265.5" y2="524.4" stroke="#222" stroke-width="0.6"/>
<path d="M265.0,523.1 L267.4,524.4 L265.0,525.7 Z" fill="#222"/>
<text x="336" y="471.26" font-size="4.6" text-anchor="start" fill="#231f20" stroke="#231f20" stroke-width="0.1">Fe<tspan font-size="3" dy="-1.6">2+</tspan></text>
<text transform="translate(356.5,467) rotate(-28)" font-size="4.8" text-anchor="middle" fill="#b8416a" stroke="#b8416a" stroke-width="0.1">MFRN1</text>
<line x1="367.2" y1="466.8" x2="356.5" y2="470.6" stroke="#222" stroke-width="0.6"/>
<path d="M354.6,471.3 L357.3,469.2 L357.8,471.8 Z" fill="#222"/>
<circle cx="372.7" cy="458.5" r="2.1" fill="#d9962a" stroke="#b87818" stroke-width="0.3"/>
<circle cx="368.8" cy="463.8" r="2.1" fill="#d9962a" stroke="#b87818" stroke-width="0.3"/>
<circle cx="375.0" cy="464.6" r="2.1" fill="#d9962a" stroke="#b87818" stroke-width="0.3"/>
<text transform="translate(378.6,452.2) rotate(-20)" font-size="4.8" text-anchor="middle" fill="#b8416a" stroke="#b8416a" stroke-width="0.1">DMT1</text>
<line x1="388" y1="455.6" x2="379.2" y2="459.6" stroke="#222" stroke-width="0.6"/>
<path d="M377.4,460.4 L379.6,458.3 L380.4,460.8 Z" fill="#222"/>
<circle cx="396.8" cy="450.8" r="7.9" fill="#fde9e4" stroke="#f2c6bc" stroke-width="0.9"/>
<circle cx="397.1" cy="447.9" r="2.05" fill="#a31b2b"/>
<circle cx="392.4" cy="453.1" r="2.05" fill="#a31b2b"/>
<circle cx="399.2" cy="454.2" r="2.05" fill="#a31b2b"/>
<text transform="translate(399.5,463.2) rotate(70)" font-size="4.2" text-anchor="middle" fill="#555" stroke="#555" stroke-width="0.1">Fe<tspan font-size="3" dy="-1.6">3+</tspan></text>
<text transform="translate(375.8,471.3) rotate(70)" font-size="4.2" text-anchor="middle" fill="#555" stroke="#555" stroke-width="0.1">Fe<tspan font-size="3" dy="-1.6">2+</tspan></text>
<text transform="translate(415.2,438.2) rotate(-28)" font-size="4.8" text-anchor="middle" fill="#b8416a" stroke="#b8416a" stroke-width="0.1">TFRC</text>
<path d="M423.4,438.4 L407.0,447.0" stroke="#333" stroke-width="1.4"/>
<path d="M423.4,438.4 L407.0,447.0" stroke="#fff" stroke-width="0.5"/>
<path d="M405.4,447.8 L407.6,445.2 L408.8,447.6 Z" fill="#111"/>
<rect x="-6.8" y="-2.3" width="13.6" height="4.6" rx="2" fill="#1b8a8e" transform="translate(426.2,437.4) rotate(61.8)"/>
<path d="M423.5,433.5 L428.5,436.5 M424.5,439 L429,441" stroke="#106a6e" stroke-width="0.7"/>
<circle cx="430.0" cy="428.6" r="1.9" fill="#a01a2c"/>
<circle cx="436.5" cy="440.4" r="1.9" fill="#a01a2c"/>
<ellipse cx="433.0" cy="434.4" rx="4.0" ry="5.0" transform="rotate(-30 433 434.4)" fill="#fff" stroke="#a01a2c" stroke-width="1.1"/>
<path d="M431.2,433.2 L434.4,436.2 M432.8,432.2 L434.6,434.2" stroke="#a01a2c" stroke-width="0.5"/>
<text x="7.8" y="558.9" font-size="10.6" text-anchor="start" fill="#000" font-weight="bold">J</text>
<text x="78.6" y="562.82" font-size="5.6" text-anchor="middle" fill="#231f20" stroke="#231f20" stroke-width="0.1">EryP</text>
<line x1="27.2" y1="568" x2="27.2" y2="642.9" stroke="#555" stroke-width="1"/>
<line x1="27.2" y1="642.4" x2="129.8" y2="642.4" stroke="#555" stroke-width="1"/>
<line x1="24.8" y1="639.2" x2="27.2" y2="639.2" stroke="#555" stroke-width="0.8"/>
<text x="22.2" y="641" font-size="5" text-anchor="end" fill="#333" stroke="#333" stroke-width="0.1">0</text>
<line x1="24.8" y1="622.8" x2="27.2" y2="622.8" stroke="#555" stroke-width="0.8"/>
<text x="22.2" y="624.6" font-size="5" text-anchor="end" fill="#333" stroke="#333" stroke-width="0.1">1</text>
<line x1="24.8" y1="606.4" x2="27.2" y2="606.4" stroke="#555" stroke-width="0.8"/>
<text x="22.2" y="608.2" font-size="5" text-anchor="end" fill="#333" stroke="#333" stroke-width="0.1">2</text>
<line x1="24.8" y1="590" x2="27.2" y2="590" stroke="#555" stroke-width="0.8"/>
<text x="22.2" y="591.8" font-size="5" text-anchor="end" fill="#333" stroke="#333" stroke-width="0.1">3</text>
<line x1="24.8" y1="573.6" x2="27.2" y2="573.6" stroke="#555" stroke-width="0.8"/>
<text x="22.2" y="575.4" font-size="5" text-anchor="end" fill="#333" stroke="#333" stroke-width="0.1">4</text>
<line x1="32.6" y1="642.4" x2="32.6" y2="644" stroke="#444444" stroke-width="0.6"/>
<text transform="translate(34.2,650) rotate(-45)" font-size="4.9" text-anchor="end" fill="#333" stroke="#333" stroke-width="0.1">Tfrc</text>
<line x1="41.8" y1="642.4" x2="41.8" y2="644" stroke="#444444" stroke-width="0.6"/>
<text transform="translate(43.4,650) rotate(-45)" font-size="4.9" text-anchor="end" fill="#333" stroke="#333" stroke-width="0.1">Slc11a2</text>
<line x1="51" y1="642.4" x2="51" y2="644" stroke="#444444" stroke-width="0.6"/>
<text transform="translate(52.6,650) rotate(-45)" font-size="4.9" text-anchor="end" fill="#333" stroke="#333" stroke-width="0.1">Slc25a37</text>
<line x1="60.2" y1="642.4" x2="60.2" y2="644" stroke="#444444" stroke-width="0.6"/>
<text transform="translate(61.8,650) rotate(-45)" font-size="4.9" text-anchor="end" fill="#333" stroke="#333" stroke-width="0.1">Alas2</text>
<line x1="69.4" y1="642.4" x2="69.4" y2="644" stroke="#444444" stroke-width="0.6"/>
<text transform="translate(71,650) rotate(-45)" font-size="4.9" text-anchor="end" fill="#333" stroke="#333" stroke-width="0.1">Alad</text>
<line x1="78.6" y1="642.4" x2="78.6" y2="644" stroke="#444444" stroke-width="0.6"/>
<text transform="translate(80.2,650) rotate(-45)" font-size="4.9" text-anchor="end" fill="#333" stroke="#333" stroke-width="0.1">Hmbs</text>
<line x1="87.8" y1="642.4" x2="87.8" y2="644" stroke="#444444" stroke-width="0.6"/>
<text transform="translate(89.4,650) rotate(-45)" font-size="4.9" text-anchor="end" fill="#333" stroke="#333" stroke-width="0.1">Uros</text>
<line x1="97" y1="642.4" x2="97" y2="644" stroke="#444444" stroke-width="0.6"/>
<text transform="translate(98.6,650) rotate(-45)" font-size="4.9" text-anchor="end" fill="#333" stroke="#333" stroke-width="0.1">Urod</text>
<line x1="106.2" y1="642.4" x2="106.2" y2="644" stroke="#444444" stroke-width="0.6"/>
<text transform="translate(107.8,650) rotate(-45)" font-size="4.9" text-anchor="end" fill="#333" stroke="#333" stroke-width="0.1">Cpox</text>
<line x1="115.4" y1="642.4" x2="115.4" y2="644" stroke="#444444" stroke-width="0.6"/>
<text transform="translate(117,650) rotate(-45)" font-size="4.9" text-anchor="end" fill="#333" stroke="#333" stroke-width="0.1">Ppox</text>
<line x1="124.6" y1="642.4" x2="124.6" y2="644" stroke="#444444" stroke-width="0.6"/>
<text transform="translate(126.2,650) rotate(-45)" font-size="4.9" text-anchor="end" fill="#333" stroke="#333" stroke-width="0.1">Fech</text>
<line x1="30.8" y1="621.2" x2="30.8" y2="639.2" stroke="#9c9c9c" stroke-width="0.6"/>
<rect x="29.3" y="632" width="3" height="7.2" fill="#c8102f"/>
<line x1="32.6" y1="639.2" x2="36.2" y2="639.2" stroke="#b0b0b0" stroke-width="0.6"/>
<path d="M30.75,616.3L30.75,618.3M29.88,616.8L31.62,617.8M29.88,617.8L31.62,616.8M32.6,616.3L32.6,618.3M31.73,616.8L33.47,617.8M31.73,617.8L33.47,616.8M34.45,616.3L34.45,618.3M33.58,616.8L35.32,617.8M33.58,617.8L35.32,616.8" stroke="#333" stroke-width="0.5" fill="none"/>
<line x1="38.2" y1="639.2" x2="41.8" y2="639.2" stroke="#b0b0b0" stroke-width="0.6"/>
<line x1="41.8" y1="639.2" x2="45.4" y2="639.2" stroke="#b0b0b0" stroke-width="0.6"/>
<line x1="49.2" y1="570.4" x2="49.2" y2="639.2" stroke="#9c9c9c" stroke-width="0.6"/>
<rect x="47.7" y="607.3" width="3" height="31.9" fill="#c8102f"/>
<line x1="52.8" y1="603.9" x2="52.8" y2="639.2" stroke="#9c9c9c" stroke-width="0.6"/>
<rect x="51.3" y="625.1" width="3" height="14.1" fill="#1b4f80"/>
<path d="M49.15,568.7L49.15,570.7M48.28,569.2L50.02,570.2M48.28,570.2L50.02,569.2M51,568.7L51,570.7M50.13,569.2L51.87,570.2M50.13,570.2L51.87,569.2M52.85,568.7L52.85,570.7M51.98,569.2L53.72,570.2M51.98,570.2L53.72,569.2" stroke="#333" stroke-width="0.5" fill="none"/>
<line x1="58.4" y1="590" x2="58.4" y2="628" stroke="#9c9c9c" stroke-width="0.6"/>
<rect x="56.9" y="604.3" width="3" height="9.3" fill="#c8102f"/>
<line x1="62" y1="593.5" x2="62" y2="630.4" stroke="#9c9c9c" stroke-width="0.6"/>
<rect x="60.5" y="608" width="3" height="9.3" fill="#1b4f80"/>
<path d="M58.35,586.3L58.35,588.3M57.48,586.8L59.22,587.8M57.48,587.8L59.22,586.8M60.2,586.3L60.2,588.3M59.33,586.8L61.07,587.8M59.33,587.8L61.07,586.8M62.05,586.3L62.05,588.3M61.18,586.8L62.92,587.8M61.18,587.8L62.92,586.8" stroke="#333" stroke-width="0.5" fill="none"/>
<line x1="67.6" y1="609.7" x2="67.6" y2="639.2" stroke="#9c9c9c" stroke-width="0.6"/>
<rect x="66.1" y="627" width="3" height="12.2" fill="#c8102f"/>
<line x1="69.4" y1="639.2" x2="73" y2="639.2" stroke="#b0b0b0" stroke-width="0.6"/>
<path d="M67.55,606.3L67.55,608.3M66.68,606.8L68.42,607.8M66.68,607.8L68.42,606.8M69.4,606.3L69.4,608.3M68.53,606.8L70.27,607.8M68.53,607.8L70.27,606.8M71.25,606.3L71.25,608.3M70.38,606.8L72.12,607.8M70.38,607.8L72.12,606.8" stroke="#333" stroke-width="0.5" fill="none"/>
<line x1="76.8" y1="590" x2="76.8" y2="639.2" stroke="#9c9c9c" stroke-width="0.6"/>
<rect x="75.3" y="615" width="3" height="19" fill="#c8102f"/>
<line x1="80.4" y1="603" x2="80.4" y2="639.2" stroke="#9c9c9c" stroke-width="0.6"/>
<rect x="78.9" y="625.1" width="3" height="14.1" fill="#1b4f80"/>
<path d="M76.75,587.2L76.75,589.2M75.88,587.7L77.62,588.7M75.88,588.7L77.62,587.7M78.6,587.2L78.6,589.2M77.73,587.7L79.47,588.7M77.73,588.7L79.47,587.7M80.45,587.2L80.45,589.2M79.58,587.7L81.32,588.7M79.58,588.7L81.32,587.7" stroke="#333" stroke-width="0.5" fill="none"/>
<line x1="86" y1="627" x2="86" y2="639.2" stroke="#9c9c9c" stroke-width="0.6"/>
<rect x="84.5" y="634" width="3" height="5.2" fill="#c8102f"/>
<line x1="87.8" y1="639.2" x2="91.4" y2="639.2" stroke="#b0b0b0" stroke-width="0.6"/>
<path d="M85.02,622.8L85.02,624.8M84.16,623.3L85.89,624.3M84.16,624.3L85.89,623.3M86.87,622.8L86.87,624.8M86.01,623.3L87.74,624.3M86.01,624.3L87.74,623.3M88.72,622.8L88.72,624.8M87.86,623.3L89.59,624.3M87.86,624.3L89.59,623.3M90.57,622.8L90.57,624.8M89.71,623.3L91.44,624.3M89.71,624.3L91.44,623.3" stroke="#333" stroke-width="0.5" fill="none"/>
<line x1="95.2" y1="598.1" x2="95.2" y2="639.2" stroke="#9c9c9c" stroke-width="0.6"/>
<rect x="93.7" y="622.8" width="3" height="16.4" fill="#c8102f"/>
<line x1="98.8" y1="617" x2="98.8" y2="639.2" stroke="#9c9c9c" stroke-width="0.6"/>
<rect x="97.3" y="633.4" width="3" height="5.8" fill="#1b4f80"/>
<path d="M95.15,597.8L95.15,599.8M94.28,598.3L96.02,599.3M94.28,599.3L96.02,598.3M97,597.8L97,599.8M96.13,598.3L97.87,599.3M96.13,599.3L97.87,598.3M98.85,597.8L98.85,599.8M97.98,598.3L99.72,599.3M97.98,599.3L99.72,598.3" stroke="#333" stroke-width="0.5" fill="none"/>
<line x1="104.4" y1="611.3" x2="104.4" y2="639.2" stroke="#9c9c9c" stroke-width="0.6"/>
<rect x="102.9" y="629.3" width="3" height="9.9" fill="#c8102f"/>
<line x1="106.2" y1="639.2" x2="109.8" y2="639.2" stroke="#b0b0b0" stroke-width="0.6"/>
<path d="M104.35,612.6L104.35,614.6M103.48,613.1L105.22,614.1M103.48,614.1L105.22,613.1M106.2,612.6L106.2,614.6M105.33,613.1L107.07,614.1M105.33,614.1L107.07,613.1M108.05,612.6L108.05,614.6M107.18,613.1L108.92,614.1M107.18,614.1L108.92,613.1" stroke="#333" stroke-width="0.5" fill="none"/>
<line x1="113.6" y1="627" x2="113.6" y2="639.2" stroke="#9c9c9c" stroke-width="0.6"/>
<rect x="112.1" y="634.4" width="3" height="4.8" fill="#c8102f"/>
<line x1="115.4" y1="639.2" x2="119" y2="639.2" stroke="#b0b0b0" stroke-width="0.6"/>
<path d="M112.62,622.8L112.62,624.8M111.76,623.3L113.49,624.3M111.76,624.3L113.49,623.3M114.47,622.8L114.47,624.8M113.61,623.3L115.34,624.3M113.61,624.3L115.34,623.3M116.33,622.8L116.33,624.8M115.46,623.3L117.19,624.3M115.46,624.3L117.19,623.3M118.17,622.8L118.17,624.8M117.31,623.3L119.04,624.3M117.31,624.3L119.04,623.3" stroke="#333" stroke-width="0.5" fill="none"/>
<line x1="122.8" y1="598" x2="122.8" y2="638.5" stroke="#9c9c9c" stroke-width="0.6"/>
<rect x="121.3" y="615" width="3" height="10.8" fill="#c8102f"/>
<line x1="126.4" y1="600" x2="126.4" y2="638.5" stroke="#9c9c9c" stroke-width="0.6"/>
<rect x="124.9" y="618.2" width="3" height="12.2" fill="#1b4f80"/>
<path d="M122.75,594.8L122.75,596.8M121.88,595.3L123.62,596.3M121.88,596.3L123.62,595.3M124.6,594.8L124.6,596.8M123.73,595.3L125.47,596.3M123.73,596.3L125.47,595.3M126.45,594.8L126.45,596.8M125.58,595.3L127.32,596.3M125.58,596.3L127.32,595.3" stroke="#333" stroke-width="0.5" fill="none"/>
<line x1="137" y1="570.8" x2="137" y2="578.8" stroke="#9c9c9c" stroke-width="0.5"/>
<rect x="133.4" y="572.5" width="7.2" height="4.6" fill="#c8102f"/>
<text x="143.2" y="576.7" font-size="5.2" text-anchor="start" fill="#333" stroke="#333" stroke-width="0.1">CT</text>
<line x1="137" y1="580" x2="137" y2="588" stroke="#9c9c9c" stroke-width="0.5"/>
<rect x="133.4" y="581.7" width="7.2" height="4.6" fill="#1b4f80"/>
<text x="143.2" y="585.9" font-size="5.2" text-anchor="start" fill="#333" stroke="#333" stroke-width="0.1">MO</text>
<text transform="translate(14.13,605.6) rotate(-90) scale(0.78,1)" font-size="6.2" text-anchor="middle" fill="#231f20" stroke="#231f20" stroke-width="0.26">Expression</text>
<text x="167.6" y="558.9" font-size="10.6" text-anchor="start" fill="#000" font-weight="bold">K</text>
<text x="239.3" y="563.32" font-size="5.6" text-anchor="middle" fill="#231f20" stroke="#231f20" stroke-width="0.1">EryD</text>
<line x1="187.3" y1="568" x2="187.3" y2="642.9" stroke="#555" stroke-width="1"/>
<line x1="187.3" y1="642.4" x2="291" y2="642.4" stroke="#555" stroke-width="1"/>
<line x1="184.9" y1="639.2" x2="187.3" y2="639.2" stroke="#555" stroke-width="0.8"/>
<text x="182.6" y="641" font-size="5" text-anchor="end" fill="#333" stroke="#333" stroke-width="0.1">0</text>
<line x1="184.9" y1="623.2" x2="187.3" y2="623.2" stroke="#555" stroke-width="0.8"/>
<text x="182.6" y="625" font-size="5" text-anchor="end" fill="#333" stroke="#333" stroke-width="0.1">1</text>
<line x1="184.9" y1="607.2" x2="187.3" y2="607.2" stroke="#555" stroke-width="0.8"/>
<text x="182.6" y="609" font-size="5" text-anchor="end" fill="#333" stroke="#333" stroke-width="0.1">2</text>
<line x1="184.9" y1="591.2" x2="187.3" y2="591.2" stroke="#555" stroke-width="0.8"/>
<text x="182.6" y="593" font-size="5" text-anchor="end" fill="#333" stroke="#333" stroke-width="0.1">3</text>
<line x1="184.9" y1="575.2" x2="187.3" y2="575.2" stroke="#555" stroke-width="0.8"/>
<text x="182.6" y="577" font-size="5" text-anchor="end" fill="#333" stroke="#333" stroke-width="0.1">4</text>
<line x1="192.6" y1="642.4" x2="192.6" y2="644" stroke="#444444" stroke-width="0.6"/>
<text transform="translate(194.2,650) rotate(-45)" font-size="4.9" text-anchor="end" fill="#333" stroke="#333" stroke-width="0.1">Tfrc</text>
<line x1="201.85" y1="642.4" x2="201.85" y2="644" stroke="#444444" stroke-width="0.6"/>
<text transform="translate(203.45,650) rotate(-45)" font-size="4.9" text-anchor="end" fill="#333" stroke="#333" stroke-width="0.1">Slc11a2</text>
<line x1="211.1" y1="642.4" x2="211.1" y2="644" stroke="#444444" stroke-width="0.6"/>
<text transform="translate(212.7,650) rotate(-45)" font-size="4.9" text-anchor="end" fill="#333" stroke="#333" stroke-width="0.1">Slc25a37</text>
<line x1="220.35" y1="642.4" x2="220.35" y2="644" stroke="#444444" stroke-width="0.6"/>
<text transform="translate(221.95,650) rotate(-45)" font-size="4.9" text-anchor="end" fill="#333" stroke="#333" stroke-width="0.1">Alas2</text>
<line x1="229.6" y1="642.4" x2="229.6" y2="644" stroke="#444444" stroke-width="0.6"/>
<text transform="translate(231.2,650) rotate(-45)" font-size="4.9" text-anchor="end" fill="#333" stroke="#333" stroke-width="0.1">Alad</text>
<line x1="238.85" y1="642.4" x2="238.85" y2="644" stroke="#444444" stroke-width="0.6"/>
<text transform="translate(240.45,650) rotate(-45)" font-size="4.9" text-anchor="end" fill="#333" stroke="#333" stroke-width="0.1">Hmbs</text>
<line x1="248.1" y1="642.4" x2="248.1" y2="644" stroke="#444444" stroke-width="0.6"/>
<text transform="translate(249.7,650) rotate(-45)" font-size="4.9" text-anchor="end" fill="#333" stroke="#333" stroke-width="0.1">Uros</text>
<line x1="257.35" y1="642.4" x2="257.35" y2="644" stroke="#444444" stroke-width="0.6"/>
<text transform="translate(258.95,650) rotate(-45)" font-size="4.9" text-anchor="end" fill="#333" stroke="#333" stroke-width="0.1">Urod</text>
<line x1="266.6" y1="642.4" x2="266.6" y2="644" stroke="#444444" stroke-width="0.6"/>
<text transform="translate(268.2,650) rotate(-45)" font-size="4.9" text-anchor="end" fill="#333" stroke="#333" stroke-width="0.1">Cpox</text>
<line x1="275.85" y1="642.4" x2="275.85" y2="644" stroke="#444444" stroke-width="0.6"/>
<text transform="translate(277.45,650) rotate(-45)" font-size="4.9" text-anchor="end" fill="#333" stroke="#333" stroke-width="0.1">Ppox</text>
<line x1="285.1" y1="642.4" x2="285.1" y2="644" stroke="#444444" stroke-width="0.6"/>
<text transform="translate(286.7,650) rotate(-45)" font-size="4.9" text-anchor="end" fill="#333" stroke="#333" stroke-width="0.1">Fech</text>
<line x1="190.85" y1="581.5" x2="190.85" y2="639.2" stroke="#9c9c9c" stroke-width="0.6"/>
<rect x="189.4" y="607" width="2.9" height="16.8" fill="#c8102f"/>
<line x1="194.35" y1="579.6" x2="194.35" y2="639.2" stroke="#9c9c9c" stroke-width="0.6"/>
<rect x="192.9" y="603" width="2.9" height="16.6" fill="#1b4f80"/>
<path d="M189.82,574.8L189.82,576.8M188.96,575.3L190.69,576.3M188.96,576.3L190.69,575.3M191.67,574.8L191.67,576.8M190.81,575.3L192.54,576.3M190.81,576.3L192.54,575.3M193.52,574.8L193.52,576.8M192.66,575.3L194.39,576.3M192.66,576.3L194.39,575.3M195.38,574.8L195.38,576.8M194.51,575.3L196.24,576.3M194.51,576.3L196.24,575.3" stroke="#333" stroke-width="0.5" fill="none"/>
<line x1="198.35" y1="639.2" x2="201.85" y2="639.2" stroke="#b0b0b0" stroke-width="0.6"/>
<line x1="201.85" y1="639.2" x2="205.35" y2="639.2" stroke="#b0b0b0" stroke-width="0.6"/>
<line x1="209.35" y1="571" x2="209.35" y2="625.8" stroke="#9c9c9c" stroke-width="0.6"/>
<rect x="207.9" y="589.2" width="2.9" height="14.5" fill="#c8102f"/>
<line x1="212.85" y1="571" x2="212.85" y2="624" stroke="#9c9c9c" stroke-width="0.6"/>
<rect x="211.4" y="588.8" width="2.9" height="13.9" fill="#1b4f80"/>
<line x1="218.6" y1="572.9" x2="218.6" y2="626.7" stroke="#9c9c9c" stroke-width="0.6"/>
<rect x="217.15" y="591.2" width="2.9" height="13.8" fill="#c8102f"/>
<line x1="222.1" y1="575.8" x2="222.1" y2="628.6" stroke="#9c9c9c" stroke-width="0.6"/>
<rect x="220.65" y="591.5" width="2.9" height="14.7" fill="#1b4f80"/>
<line x1="227.85" y1="579.6" x2="227.85" y2="639.2" stroke="#9c9c9c" stroke-width="0.6"/>
<rect x="226.4" y="600.4" width="2.9" height="20.6" fill="#c8102f"/>
<line x1="231.35" y1="577.7" x2="231.35" y2="639.2" stroke="#9c9c9c" stroke-width="0.6"/>
<rect x="229.9" y="599.8" width="2.9" height="19.2" fill="#1b4f80"/>
<line x1="237.1" y1="575.8" x2="237.1" y2="613.3" stroke="#9c9c9c" stroke-width="0.6"/>
<rect x="235.65" y="588.8" width="2.9" height="9.7" fill="#c8102f"/>
<line x1="240.6" y1="574.8" x2="240.6" y2="609.4" stroke="#9c9c9c" stroke-width="0.6"/>
<rect x="239.15" y="587.7" width="2.9" height="8.8" fill="#1b4f80"/>
<path d="M236.07,572.5L236.07,574.5M235.21,573L236.94,574M235.21,574L236.94,573M237.92,572.5L237.92,574.5M237.06,573L238.79,574M237.06,574L238.79,573M239.77,572.5L239.77,574.5M238.91,573L240.64,574M238.91,574L240.64,573M241.62,572.5L241.62,574.5M240.76,573L242.49,574M240.76,574L242.49,573" stroke="#333" stroke-width="0.5" fill="none"/>
<line x1="246.35" y1="594.6" x2="246.35" y2="639.2" stroke="#9c9c9c" stroke-width="0.6"/>
<rect x="244.9" y="620.4" width="2.9" height="18.8" fill="#c8102f"/>
<line x1="249.85" y1="595" x2="249.85" y2="639.2" stroke="#9c9c9c" stroke-width="0.6"/>
<rect x="248.4" y="620" width="2.9" height="19.2" fill="#1b4f80"/>
<path d="M246.25,591.1L246.25,593.1M245.38,591.6L247.12,592.6M245.38,592.6L247.12,591.6M248.1,591.1L248.1,593.1M247.23,591.6L248.97,592.6M247.23,592.6L248.97,591.6M249.95,591.1L249.95,593.1M249.08,591.6L250.82,592.6M249.08,592.6L250.82,591.6" stroke="#333" stroke-width="0.5" fill="none"/>
<line x1="255.6" y1="580.6" x2="255.6" y2="632.5" stroke="#9c9c9c" stroke-width="0.6"/>
<rect x="254.15" y="600.8" width="2.9" height="13" fill="#c8102f"/>
<line x1="259.1" y1="584.4" x2="259.1" y2="629.6" stroke="#9c9c9c" stroke-width="0.6"/>
<rect x="257.65" y="601.2" width="2.9" height="11.1" fill="#1b4f80"/>
<line x1="264.85" y1="575.8" x2="264.85" y2="629.6" stroke="#9c9c9c" stroke-width="0.6"/>
<rect x="263.4" y="592.1" width="2.9" height="17.9" fill="#c8102f"/>
<line x1="268.35" y1="573.5" x2="268.35" y2="628" stroke="#9c9c9c" stroke-width="0.6"/>
<rect x="266.9" y="590.8" width="2.9" height="15.4" fill="#1b4f80"/>
<line x1="274.1" y1="589.2" x2="274.1" y2="639.2" stroke="#9c9c9c" stroke-width="0.6"/>
<rect x="272.65" y="617.1" width="2.9" height="22.1" fill="#c8102f"/>
<line x1="277.6" y1="589.2" x2="277.6" y2="639.2" stroke="#9c9c9c" stroke-width="0.6"/>
<rect x="276.15" y="617.1" width="2.9" height="22.1" fill="#1b4f80"/>
<path d="M273.08,586.7L273.08,588.7M272.21,587.2L273.94,588.2M272.21,588.2L273.94,587.2M274.93,586.7L274.93,588.7M274.06,587.2L275.79,588.2M274.06,588.2L275.79,587.2M276.78,586.7L276.78,588.7M275.91,587.2L277.64,588.2M275.91,588.2L277.64,587.2M278.63,586.7L278.63,588.7M277.76,587.2L279.49,588.2M277.76,588.2L279.49,587.2" stroke="#333" stroke-width="0.5" fill="none"/>
<line x1="283.35" y1="579.6" x2="283.35" y2="629.6" stroke="#9c9c9c" stroke-width="0.6"/>
<rect x="281.9" y="596" width="2.9" height="13.4" fill="#c8102f"/>
<line x1="286.85" y1="579.6" x2="286.85" y2="627.7" stroke="#9c9c9c" stroke-width="0.6"/>
<rect x="285.4" y="596" width="2.9" height="12.2" fill="#1b4f80"/>
<text transform="translate(174.23,605.6) rotate(-90) scale(0.78,1)" font-size="6.2" text-anchor="middle" fill="#231f20" stroke="#231f20" stroke-width="0.26">Expression</text>
<text x="307.4" y="558.9" font-size="10.6" text-anchor="start" fill="#000" font-weight="bold">L</text>
<text x="378.4" y="562.62" font-size="5.6" text-anchor="middle" fill="#231f20" stroke="#231f20" stroke-width="0.1">nRBC</text>
<line x1="326.3" y1="568" x2="326.3" y2="642.7" stroke="#555" stroke-width="1"/>
<line x1="326.3" y1="642.2" x2="430" y2="642.2" stroke="#555" stroke-width="1"/>
<line x1="323.9" y1="639" x2="326.3" y2="639" stroke="#555" stroke-width="0.8"/>
<text x="321.6" y="640.8" font-size="5" text-anchor="end" fill="#333" stroke="#333" stroke-width="0.1">0</text>
<line x1="323.9" y1="626" x2="326.3" y2="626" stroke="#555" stroke-width="0.8"/>
<text x="321.6" y="627.8" font-size="5" text-anchor="end" fill="#333" stroke="#333" stroke-width="0.1">1</text>
<line x1="323.9" y1="613" x2="326.3" y2="613" stroke="#555" stroke-width="0.8"/>
<text x="321.6" y="614.8" font-size="5" text-anchor="end" fill="#333" stroke="#333" stroke-width="0.1">2</text>
<line x1="323.9" y1="600" x2="326.3" y2="600" stroke="#555" stroke-width="0.8"/>
<text x="321.6" y="601.8" font-size="5" text-anchor="end" fill="#333" stroke="#333" stroke-width="0.1">3</text>
<line x1="323.9" y1="587" x2="326.3" y2="587" stroke="#555" stroke-width="0.8"/>
<text x="321.6" y="588.8" font-size="5" text-anchor="end" fill="#333" stroke="#333" stroke-width="0.1">4</text>
<line x1="323.9" y1="574" x2="326.3" y2="574" stroke="#555" stroke-width="0.8"/>
<text x="321.6" y="575.8" font-size="5" text-anchor="end" fill="#333" stroke="#333" stroke-width="0.1">5</text>
<line x1="331.6" y1="642.2" x2="331.6" y2="643.8" stroke="#444444" stroke-width="0.6"/>
<text transform="translate(333.2,649.8) rotate(-45)" font-size="4.8" text-anchor="end" fill="#333" stroke="#333" stroke-width="0.1">TFRC</text>
<line x1="340.76" y1="642.2" x2="340.76" y2="643.8" stroke="#444444" stroke-width="0.6"/>
<text transform="translate(342.36,649.8) rotate(-45)" font-size="4.8" text-anchor="end" fill="#333" stroke="#333" stroke-width="0.1">SLC11A2</text>
<line x1="349.92" y1="642.2" x2="349.92" y2="643.8" stroke="#444444" stroke-width="0.6"/>
<text transform="translate(351.52,649.8) rotate(-45)" font-size="4.8" text-anchor="end" fill="#333" stroke="#333" stroke-width="0.1">SLC25A37</text>
<line x1="359.08" y1="642.2" x2="359.08" y2="643.8" stroke="#444444" stroke-width="0.6"/>
<text transform="translate(360.68,649.8) rotate(-45)" font-size="4.8" text-anchor="end" fill="#333" stroke="#333" stroke-width="0.1">ALAS2</text>
<line x1="368.24" y1="642.2" x2="368.24" y2="643.8" stroke="#444444" stroke-width="0.6"/>
<text transform="translate(369.84,649.8) rotate(-45)" font-size="4.8" text-anchor="end" fill="#333" stroke="#333" stroke-width="0.1">ALAD</text>
<line x1="377.4" y1="642.2" x2="377.4" y2="643.8" stroke="#444444" stroke-width="0.6"/>
<text transform="translate(379,649.8) rotate(-45)" font-size="4.8" text-anchor="end" fill="#333" stroke="#333" stroke-width="0.1">HMBS</text>
<line x1="386.56" y1="642.2" x2="386.56" y2="643.8" stroke="#444444" stroke-width="0.6"/>
<text transform="translate(388.16,649.8) rotate(-45)" font-size="4.8" text-anchor="end" fill="#333" stroke="#333" stroke-width="0.1">UROS</text>
<line x1="395.72" y1="642.2" x2="395.72" y2="643.8" stroke="#444444" stroke-width="0.6"/>
<text transform="translate(397.32,649.8) rotate(-45)" font-size="4.8" text-anchor="end" fill="#333" stroke="#333" stroke-width="0.1">UROD</text>
<line x1="404.88" y1="642.2" x2="404.88" y2="643.8" stroke="#444444" stroke-width="0.6"/>
<text transform="translate(406.48,649.8) rotate(-45)" font-size="4.8" text-anchor="end" fill="#333" stroke="#333" stroke-width="0.1">CPOX</text>
<line x1="414.04" y1="642.2" x2="414.04" y2="643.8" stroke="#444444" stroke-width="0.6"/>
<text transform="translate(415.64,649.8) rotate(-45)" font-size="4.8" text-anchor="end" fill="#333" stroke="#333" stroke-width="0.1">PPOX</text>
<line x1="423.2" y1="642.2" x2="423.2" y2="643.8" stroke="#444444" stroke-width="0.6"/>
<text transform="translate(424.8,649.8) rotate(-45)" font-size="4.8" text-anchor="end" fill="#333" stroke="#333" stroke-width="0.1">FECH</text>
<line x1="329.9" y1="583" x2="329.9" y2="639" stroke="#9c9c9c" stroke-width="0.6"/>
<rect x="328.5" y="604.4" width="2.8" height="17.1" fill="#c8102f"/>
<line x1="333.3" y1="587.5" x2="333.3" y2="639" stroke="#9c9c9c" stroke-width="0.6"/>
<rect x="331.9" y="610.2" width="2.8" height="15.4" fill="#1b4f80"/>
<path d="M328.83,578.8L328.83,580.8M327.96,579.3L329.69,580.3M327.96,580.3L329.69,579.3M330.68,578.8L330.68,580.8M329.81,579.3L331.54,580.3M329.81,580.3L331.54,579.3M332.53,578.8L332.53,580.8M331.66,579.3L333.39,580.3M331.66,580.3L333.39,579.3M334.38,578.8L334.38,580.8M333.51,579.3L335.24,580.3M333.51,580.3L335.24,579.3" stroke="#333" stroke-width="0.5" fill="none"/>
<line x1="339.06" y1="597" x2="339.06" y2="639" stroke="#9c9c9c" stroke-width="0.6"/>
<rect x="337.66" y="622" width="2.8" height="17" fill="#c8102f"/>
<line x1="342.46" y1="627" x2="342.46" y2="639" stroke="#9c9c9c" stroke-width="0.6"/>
<rect x="341.06" y="633" width="2.8" height="6" fill="#1b4f80"/>
<path d="M338.91,592.3L338.91,594.3M338.04,592.8L339.78,593.8M338.04,593.8L339.78,592.8M340.76,592.3L340.76,594.3M339.89,592.8L341.63,593.8M339.89,593.8L341.63,592.8M342.61,592.3L342.61,594.3M341.74,592.8L343.48,593.8M341.74,593.8L343.48,592.8" stroke="#333" stroke-width="0.5" fill="none"/>
<line x1="348.22" y1="576" x2="348.22" y2="615.4" stroke="#9c9c9c" stroke-width="0.6"/>
<rect x="346.82" y="590.8" width="2.8" height="10.2" fill="#c8102f"/>
<line x1="351.62" y1="574" x2="351.62" y2="606.7" stroke="#9c9c9c" stroke-width="0.6"/>
<rect x="350.22" y="586" width="2.8" height="8.6" fill="#1b4f80"/>
<path d="M348.07,569.8L348.07,571.8M347.2,570.3L348.94,571.3M347.2,571.3L348.94,570.3M349.92,569.8L349.92,571.8M349.05,570.3L350.79,571.3M349.05,571.3L350.79,570.3M351.77,569.8L351.77,571.8M350.9,570.3L352.64,571.3M350.9,571.3L352.64,570.3" stroke="#333" stroke-width="0.5" fill="none"/>
<line x1="357.38" y1="587.5" x2="357.38" y2="632.3" stroke="#9c9c9c" stroke-width="0.6"/>
<rect x="355.98" y="602.9" width="2.8" height="13.4" fill="#c8102f"/>
<line x1="360.78" y1="585.5" x2="360.78" y2="621" stroke="#9c9c9c" stroke-width="0.6"/>
<rect x="359.38" y="597.1" width="2.8" height="10.2" fill="#1b4f80"/>
<path d="M357.23,581.7L357.23,583.7M356.36,582.2L358.1,583.2M356.36,583.2L358.1,582.2M359.08,581.7L359.08,583.7M358.21,582.2L359.95,583.2M358.21,583.2L359.95,582.2M360.93,581.7L360.93,583.7M360.06,582.2L361.8,583.2M360.06,583.2L361.8,582.2" stroke="#333" stroke-width="0.5" fill="none"/>
<line x1="366.54" y1="602" x2="366.54" y2="639" stroke="#9c9c9c" stroke-width="0.6"/>
<rect x="365.14" y="623.7" width="2.8" height="15.3" fill="#c8102f"/>
<line x1="369.94" y1="607.7" x2="369.94" y2="639" stroke="#9c9c9c" stroke-width="0.6"/>
<rect x="368.54" y="626.5" width="2.8" height="12.5" fill="#1b4f80"/>
<line x1="375.7" y1="588" x2="375.7" y2="639" stroke="#9c9c9c" stroke-width="0.6"/>
<rect x="374.3" y="608" width="2.8" height="14" fill="#c8102f"/>
<line x1="379.1" y1="592" x2="379.1" y2="639" stroke="#9c9c9c" stroke-width="0.6"/>
<rect x="377.7" y="608.6" width="2.8" height="12.4" fill="#1b4f80"/>
<line x1="383.16" y1="639" x2="386.56" y2="639" stroke="#b0b0b0" stroke-width="0.6"/>
<line x1="386.56" y1="639" x2="389.96" y2="639" stroke="#b0b0b0" stroke-width="0.6"/>
<line x1="394.02" y1="600.4" x2="394.02" y2="639" stroke="#9c9c9c" stroke-width="0.6"/>
<rect x="392.62" y="623" width="2.8" height="16" fill="#c8102f"/>
<line x1="397.42" y1="598" x2="397.42" y2="639" stroke="#9c9c9c" stroke-width="0.6"/>
<rect x="396.02" y="619.8" width="2.8" height="19.2" fill="#1b4f80"/>
<path d="M393.87,594.2L393.87,596.2M393,594.7L394.74,595.7M393,595.7L394.74,594.7M395.72,594.2L395.72,596.2M394.85,594.7L396.59,595.7M394.85,595.7L396.59,594.7M397.57,594.2L397.57,596.2M396.7,594.7L398.44,595.7M396.7,595.7L398.44,594.7" stroke="#333" stroke-width="0.5" fill="none"/>
<line x1="403.18" y1="592.7" x2="403.18" y2="639" stroke="#9c9c9c" stroke-width="0.6"/>
<rect x="401.78" y="615.8" width="2.8" height="23.2" fill="#c8102f"/>
<line x1="406.58" y1="598.5" x2="406.58" y2="639" stroke="#9c9c9c" stroke-width="0.6"/>
<rect x="405.18" y="622.7" width="2.8" height="16.3" fill="#1b4f80"/>
<path d="M402.11,589L402.11,591M401.24,589.5L402.97,590.5M401.24,590.5L402.97,589.5M403.96,589L403.96,591M403.09,589.5L404.82,590.5M403.09,590.5L404.82,589.5M405.81,589L405.81,591M404.94,589.5L406.67,590.5M404.94,590.5L406.67,589.5M407.66,589L407.66,591M406.79,589.5L408.52,590.5M406.79,590.5L408.52,589.5" stroke="#333" stroke-width="0.5" fill="none"/>
<line x1="410.64" y1="639" x2="414.04" y2="639" stroke="#b0b0b0" stroke-width="0.6"/>
<line x1="414.04" y1="639" x2="417.44" y2="639" stroke="#b0b0b0" stroke-width="0.6"/>
<line x1="421.5" y1="597.3" x2="421.5" y2="638.9" stroke="#9c9c9c" stroke-width="0.6"/>
<rect x="420.1" y="613.5" width="2.8" height="25.4" fill="#c8102f"/>
<line x1="424.9" y1="595" x2="424.9" y2="638.9" stroke="#9c9c9c" stroke-width="0.6"/>
<rect x="423.5" y="611.2" width="2.8" height="12.2" fill="#1b4f80"/>
<path d="M420.43,591L420.43,593M419.56,591.5L421.29,592.5M419.56,592.5L421.29,591.5M422.28,591L422.28,593M421.41,591.5L423.14,592.5M421.41,592.5L423.14,591.5M424.13,591L424.13,593M423.26,591.5L424.99,592.5M423.26,592.5L424.99,591.5M425.98,591L425.98,593M425.11,591.5L426.84,592.5M425.11,592.5L426.84,591.5" stroke="#333" stroke-width="0.5" fill="none"/>
<line x1="436.6" y1="570.7" x2="436.6" y2="578.7" stroke="#9c9c9c" stroke-width="0.5"/>
<rect x="433" y="572.4" width="7.2" height="4.6" fill="#c8102f"/>
<text x="442.8" y="576.6" font-size="5.2" text-anchor="start" fill="#333" stroke="#333" stroke-width="0.1">Lean</text>
<line x1="436.6" y1="580" x2="436.6" y2="588" stroke="#9c9c9c" stroke-width="0.5"/>
<rect x="433" y="581.7" width="7.2" height="4.6" fill="#1b4f80"/>
<text x="442.8" y="585.9" font-size="5.2" text-anchor="start" fill="#333" stroke="#333" stroke-width="0.1">Obese</text>
<text transform="translate(313.23,605.5) rotate(-90) scale(0.78,1)" font-size="6.2" text-anchor="middle" fill="#231f20" stroke="#231f20" stroke-width="0.26">Expression</text>
<rect x="0.6" y="0.6" width="518.8" height="671.8" fill="none" stroke="#5a5a5a" stroke-width="1.2"/>
</svg>
</body></html>
